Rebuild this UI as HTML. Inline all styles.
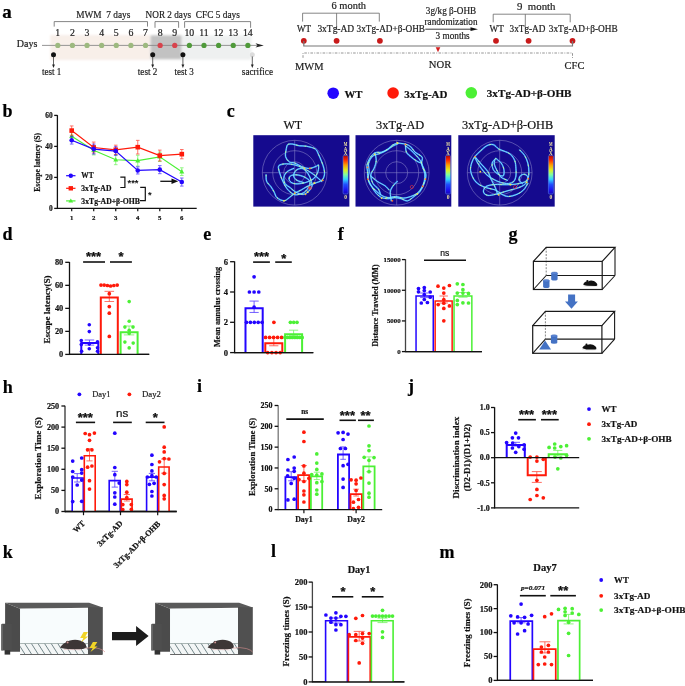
<!DOCTYPE html>
<html><head><meta charset="utf-8"><style>
html,body{margin:0;padding:0;background:#fff;width:685px;height:686px;overflow:hidden}
svg{display:block;will-change:transform;filter:blur(0.35px)}
.s{font-family:"Liberation Serif",serif}
.a{font-family:"Liberation Sans",sans-serif}
</style></head><body>
<svg width="685" height="686" viewBox="0 0 685 686">
<defs>
<filter id="soft" x="-10%" y="-20%" width="120%" height="140%"><feGaussianBlur stdDeviation="0.8"/></filter>
<filter id="bl" x="-10%" y="-10%" width="120%" height="120%"><feGaussianBlur stdDeviation="0.35"/></filter>
<linearGradient id="jet" x1="0" y1="1" x2="0" y2="0">
<stop offset="0" stop-color="#1808b8"/><stop offset="0.1" stop-color="#1c10f0"/><stop offset="0.25" stop-color="#2050ff"/><stop offset="0.38" stop-color="#30d8ff"/>
<stop offset="0.5" stop-color="#80ffa0"/><stop offset="0.62" stop-color="#e0f020"/><stop offset="0.75" stop-color="#ffa000"/>
<stop offset="0.88" stop-color="#ff2800"/><stop offset="1" stop-color="#a80808"/></linearGradient>
</defs>
<text x="2.2" y="18.2" font-size="19" class="s" font-weight="bold" stroke="#000" stroke-width="0.2">a</text>
<g filter="url(#soft)">
<rect x="50.2" y="35" width="99.8" height="25" fill="#f8efe9"/>
<rect x="181.5" y="35.5" width="70" height="24.2" fill="#eef0f0"/>
<rect x="150.5" y="35.3" width="31" height="24" fill="#c2c2c2"/>
</g>
<line x1="42" y1="45.4" x2="258" y2="45.4" stroke="#8a8a8a" stroke-width="0.9"/>
<path d="M255.5,43.2 L263.8,45.4 L255.5,47.6 L257.5,45.4 Z" fill="#222"/>
<circle cx="57.8" cy="45.4" r="2.6" fill="#9db97f"/>
<text x="57.8" y="36" font-size="9.8" class="s" text-anchor="middle" fill="#222" stroke="#222" stroke-width="0.2">1</text>
<circle cx="72.42" cy="45.4" r="2.6" fill="#9db97f"/>
<text x="72.42" y="36" font-size="9.8" class="s" text-anchor="middle" fill="#222" stroke="#222" stroke-width="0.2">2</text>
<circle cx="87.04" cy="45.4" r="2.6" fill="#9db97f"/>
<text x="87.04" y="36" font-size="9.8" class="s" text-anchor="middle" fill="#222" stroke="#222" stroke-width="0.2">3</text>
<circle cx="101.66" cy="45.4" r="2.6" fill="#9db97f"/>
<text x="101.66" y="36" font-size="9.8" class="s" text-anchor="middle" fill="#222" stroke="#222" stroke-width="0.2">4</text>
<circle cx="116.28" cy="45.4" r="2.6" fill="#9db97f"/>
<text x="116.28" y="36" font-size="9.8" class="s" text-anchor="middle" fill="#222" stroke="#222" stroke-width="0.2">5</text>
<circle cx="130.9" cy="45.4" r="2.6" fill="#9db97f"/>
<text x="130.9" y="36" font-size="9.8" class="s" text-anchor="middle" fill="#222" stroke="#222" stroke-width="0.2">6</text>
<circle cx="145.52" cy="45.4" r="2.6" fill="#9db97f"/>
<text x="145.52" y="36" font-size="9.8" class="s" text-anchor="middle" fill="#222" stroke="#222" stroke-width="0.2">7</text>
<circle cx="160.14" cy="45.4" r="2.6" fill="#d8434c"/>
<text x="160.14" y="36" font-size="9.8" class="s" text-anchor="middle" fill="#222" stroke="#222" stroke-width="0.2">8</text>
<circle cx="174.76" cy="45.4" r="2.6" fill="#d8434c"/>
<text x="174.76" y="36" font-size="9.8" class="s" text-anchor="middle" fill="#222" stroke="#222" stroke-width="0.2">9</text>
<circle cx="189.38" cy="45.4" r="2.6" fill="#4f9a3a"/>
<text x="189.38" y="36" font-size="9.8" class="s" text-anchor="middle" fill="#222" stroke="#222" stroke-width="0.2">10</text>
<circle cx="204" cy="45.4" r="2.6" fill="#4f9a3a"/>
<text x="204" y="36" font-size="9.8" class="s" text-anchor="middle" fill="#222" stroke="#222" stroke-width="0.2">11</text>
<circle cx="218.62" cy="45.4" r="2.6" fill="#4f9a3a"/>
<text x="218.62" y="36" font-size="9.8" class="s" text-anchor="middle" fill="#222" stroke="#222" stroke-width="0.2">12</text>
<circle cx="233.24" cy="45.4" r="2.6" fill="#4f9a3a"/>
<text x="233.24" y="36" font-size="9.8" class="s" text-anchor="middle" fill="#222" stroke="#222" stroke-width="0.2">13</text>
<circle cx="247.86" cy="45.4" r="2.6" fill="#4f9a3a"/>
<text x="247.86" y="36" font-size="9.8" class="s" text-anchor="middle" fill="#222" stroke="#222" stroke-width="0.2">14</text>
<text x="16.8" y="47" font-size="10" class="s" fill="#222" stroke="#222" stroke-width="0.2">Days</text>
<path d="M54.2,26.6 L54.2,21.6 L147.5,21.6 L147.5,26.6" fill="none" stroke="#666" stroke-width="0.8"/>
<path d="M155,27.8 L155,21.6 L178.6,21.6 L178.6,27.8" fill="none" stroke="#666" stroke-width="0.8"/>
<path d="M184.6,27.8 L184.6,21.6 L250.6,21.6 L250.6,27.8" fill="none" stroke="#666" stroke-width="0.8"/>
<text x="76.3" y="17.6" font-size="10" class="s" fill="#222" stroke="#222" stroke-width="0.2" textLength="54" lengthAdjust="spacingAndGlyphs">MWM&#160; 7 days</text>
<text x="145.6" y="17.6" font-size="10" class="s" fill="#222" stroke="#222" stroke-width="0.2" textLength="45.5" lengthAdjust="spacingAndGlyphs">NOR 2 days</text>
<text x="195.8" y="17.6" font-size="10" class="s" fill="#222" stroke="#222" stroke-width="0.2" textLength="44" lengthAdjust="spacingAndGlyphs">CFC 5 days</text>
<circle cx="53.5" cy="54.7" r="2.5" fill="#111"/>
<line x1="53.5" y1="56.5" x2="53.5" y2="65.5" stroke="#222" stroke-width="0.7"/>
<path d="M52.1,64.5 L54.9,64.5 L53.5,68 Z" fill="#222"/>
<text x="42" y="74.6" font-size="10" class="s" fill="#222" stroke="#222" stroke-width="0.2" textLength="19.3" lengthAdjust="spacingAndGlyphs">test 1</text>
<circle cx="152.7" cy="54.7" r="2.5" fill="#111"/>
<line x1="152.7" y1="56.5" x2="152.7" y2="65.5" stroke="#222" stroke-width="0.7"/>
<path d="M151.3,64.5 L154.1,64.5 L152.7,68 Z" fill="#222"/>
<text x="137.8" y="74.6" font-size="10" class="s" fill="#222" stroke="#222" stroke-width="0.2" textLength="19.5" lengthAdjust="spacingAndGlyphs">test 2</text>
<circle cx="182.9" cy="54.7" r="2.5" fill="#111"/>
<line x1="182.9" y1="56.5" x2="182.9" y2="65.5" stroke="#222" stroke-width="0.7"/>
<path d="M181.5,64.5 L184.3,64.5 L182.9,68 Z" fill="#222"/>
<text x="174.5" y="74.6" font-size="10" class="s" fill="#222" stroke="#222" stroke-width="0.2" textLength="19.3" lengthAdjust="spacingAndGlyphs">test 3</text>
<circle cx="252.3" cy="54.7" r="2.5" fill="#dcdcdc"/>
<line x1="252.3" y1="56.5" x2="252.3" y2="65.5" stroke="#222" stroke-width="0.7"/>
<path d="M250.9,64.5 L253.7,64.5 L252.3,68 Z" fill="#222"/>
<text x="241.8" y="74.6" font-size="10" class="s" fill="#222" stroke="#222" stroke-width="0.2" textLength="31.2" lengthAdjust="spacingAndGlyphs">sacrifice</text>
<text x="348.8" y="8.6" font-size="10.3" class="s" text-anchor="middle" fill="#222" stroke="#222" stroke-width="0.2" textLength="34.5" lengthAdjust="spacingAndGlyphs">6 month</text>
<path d="M302.6,21.6 L302.6,13.2 L379.3,13.2 L379.3,21.6" fill="none" stroke="#666" stroke-width="0.8"/>
<line x1="336.6" y1="13.2" x2="336.6" y2="30" stroke="#666" stroke-width="0.8"/>
<text x="517" y="9.6" font-size="10.3" class="s" fill="#222" stroke="#222" stroke-width="0.2" textLength="38.5" lengthAdjust="spacingAndGlyphs">9&#160; month</text>
<path d="M493.2,22.3 L493.2,14.2 L570.2,14.2 L570.2,22.3" fill="none" stroke="#666" stroke-width="0.8"/>
<line x1="525.3" y1="14.2" x2="525.3" y2="31.5" stroke="#666" stroke-width="0.8"/>
<text x="297" y="31.8" font-size="9.4" class="s" fill="#222" stroke="#222" stroke-width="0.2" textLength="14" lengthAdjust="spacingAndGlyphs">WT</text>
<text x="317.4" y="31.8" font-size="9.4" class="s" fill="#222" stroke="#222" stroke-width="0.2" textLength="36.8" lengthAdjust="spacingAndGlyphs">3xTg-AD</text>
<text x="356.6" y="31.8" font-size="9.4" class="s" fill="#222" stroke="#222" stroke-width="0.2" textLength="68.4" lengthAdjust="spacingAndGlyphs">3xTg-AD+β-OHB</text>
<text x="489.6" y="31.8" font-size="9.4" class="s" fill="#222" stroke="#222" stroke-width="0.2" textLength="14.2" lengthAdjust="spacingAndGlyphs">WT</text>
<text x="509.6" y="31.8" font-size="9.4" class="s" fill="#222" stroke="#222" stroke-width="0.2" textLength="35.8" lengthAdjust="spacingAndGlyphs">3xTg-AD</text>
<text x="548.8" y="31.8" font-size="9.4" class="s" fill="#222" stroke="#222" stroke-width="0.2" textLength="68.8" lengthAdjust="spacingAndGlyphs">3xTg-AD+β-OHB</text>
<circle cx="303.8" cy="40.8" r="2.9" fill="#c81a1a"/>
<circle cx="336.6" cy="40.8" r="2.9" fill="#c81a1a"/>
<circle cx="379.9" cy="40.8" r="2.9" fill="#c81a1a"/>
<circle cx="496" cy="40.8" r="2.9" fill="#c81a1a"/>
<circle cx="528.6" cy="40.8" r="2.9" fill="#c81a1a"/>
<circle cx="572.5" cy="40.8" r="2.9" fill="#c81a1a"/>
<path d="M303.8,41 L303.8,46 L572.5,46 L572.5,41" fill="none" stroke="#777" stroke-width="1.2"/>
<path d="M303,57.8 L303,53 L572.5,53 L572.5,58.5" fill="none" stroke="#8f8f8f" stroke-width="0.95" stroke-dasharray="2.6,1.3,0.9,1.3"/>
<path d="M435.7,47.3 L440.3,47.3 L438,52.3 Z" fill="#d42020"/>
<line x1="425.3" y1="29.2" x2="472" y2="29.2" stroke="#222" stroke-width="0.9"/>
<path d="M470.5,27.3 L478,29.2 L470.5,31.1 Z" fill="#111"/>
<text x="451" y="13.8" font-size="9.6" class="s" text-anchor="middle" fill="#222" stroke="#222" stroke-width="0.2" textLength="50.3" lengthAdjust="spacingAndGlyphs">3g/kg β-OHB</text>
<text x="451" y="24.6" font-size="9.6" class="s" text-anchor="middle" fill="#222" stroke="#222" stroke-width="0.2" textLength="53" lengthAdjust="spacingAndGlyphs">randomization</text>
<text x="452.6" y="39.2" font-size="9.6" class="s" text-anchor="middle" fill="#222" stroke="#222" stroke-width="0.2" textLength="34.2" lengthAdjust="spacingAndGlyphs">3 months</text>
<text x="309.3" y="69.6" font-size="10.3" class="s" text-anchor="middle" fill="#222" stroke="#222" stroke-width="0.2" textLength="28.5" lengthAdjust="spacingAndGlyphs">MWM</text>
<text x="440" y="67.8" font-size="10.3" class="s" text-anchor="middle" fill="#222" stroke="#222" stroke-width="0.2" textLength="22.5" lengthAdjust="spacingAndGlyphs">NOR</text>
<text x="574.5" y="69.2" font-size="10.3" class="s" text-anchor="middle" fill="#222" stroke="#222" stroke-width="0.2" textLength="19.8" lengthAdjust="spacingAndGlyphs">CFC</text>
<circle cx="333.2" cy="93.2" r="5.8" fill="#2305ff"/>
<circle cx="393.1" cy="93" r="5.8" fill="#ff1a0a"/>
<circle cx="471.3" cy="92.8" r="5.8" fill="#4cf035"/>
<text x="344.6" y="97.9" font-size="11.2" class="s" font-weight="bold" fill="#111" stroke="#111" stroke-width="0.2" textLength="17.9" lengthAdjust="spacingAndGlyphs">WT</text>
<text x="404.2" y="97.6" font-size="11.2" class="s" font-weight="bold" fill="#111" stroke="#111" stroke-width="0.2" textLength="43.3" lengthAdjust="spacingAndGlyphs">3xTg-AD</text>
<text x="486.8" y="97.3" font-size="11.2" class="s" font-weight="bold" fill="#111" stroke="#111" stroke-width="0.2" textLength="84.7" lengthAdjust="spacingAndGlyphs">3xTg-AD+β-OHB</text>
<text x="2.6" y="117" font-size="18" class="s" font-weight="bold" stroke="#000" stroke-width="0.2">b</text>
<line x1="57.4" y1="115.1" x2="57.4" y2="209.05" stroke="#111" stroke-width="1.3"/>
<line x1="54.2" y1="208.4" x2="57.4" y2="208.4" stroke="#111" stroke-width="1.3"/>
<text x="52.6" y="210.92" font-size="7.4" class="s" font-weight="bold" text-anchor="end" fill="#111" stroke="#111" stroke-width="0.2">0</text>
<line x1="54.2" y1="177.4" x2="57.4" y2="177.4" stroke="#111" stroke-width="1.3"/>
<text x="52.6" y="179.92" font-size="7.4" class="s" font-weight="bold" text-anchor="end" fill="#111" stroke="#111" stroke-width="0.2">20</text>
<line x1="54.2" y1="146.4" x2="57.4" y2="146.4" stroke="#111" stroke-width="1.3"/>
<text x="52.6" y="148.92" font-size="7.4" class="s" font-weight="bold" text-anchor="end" fill="#111" stroke="#111" stroke-width="0.2">40</text>
<line x1="54.2" y1="115.4" x2="57.4" y2="115.4" stroke="#111" stroke-width="1.3"/>
<text x="52.6" y="117.92" font-size="7.4" class="s" font-weight="bold" text-anchor="end" fill="#111" stroke="#111" stroke-width="0.2">60</text>
<line x1="57.4" y1="208.4" x2="196.7" y2="208.4" stroke="#111" stroke-width="1.3"/>
<line x1="71.7" y1="208.4" x2="71.7" y2="211.2" stroke="#111" stroke-width="1.2"/>
<text x="71.7" y="220.2" font-size="6.8" class="s" font-weight="bold" text-anchor="middle" fill="#111" stroke="#111" stroke-width="0.2">1</text>
<line x1="93.72" y1="208.4" x2="93.72" y2="211.2" stroke="#111" stroke-width="1.2"/>
<text x="93.72" y="220.2" font-size="6.8" class="s" font-weight="bold" text-anchor="middle" fill="#111" stroke="#111" stroke-width="0.2">2</text>
<line x1="115.74" y1="208.4" x2="115.74" y2="211.2" stroke="#111" stroke-width="1.2"/>
<text x="115.74" y="220.2" font-size="6.8" class="s" font-weight="bold" text-anchor="middle" fill="#111" stroke="#111" stroke-width="0.2">3</text>
<line x1="137.76" y1="208.4" x2="137.76" y2="211.2" stroke="#111" stroke-width="1.2"/>
<text x="137.76" y="220.2" font-size="6.8" class="s" font-weight="bold" text-anchor="middle" fill="#111" stroke="#111" stroke-width="0.2">4</text>
<line x1="159.78" y1="208.4" x2="159.78" y2="211.2" stroke="#111" stroke-width="1.2"/>
<text x="159.78" y="220.2" font-size="6.8" class="s" font-weight="bold" text-anchor="middle" fill="#111" stroke="#111" stroke-width="0.2">5</text>
<line x1="181.8" y1="208.4" x2="181.8" y2="211.2" stroke="#111" stroke-width="1.2"/>
<text x="181.8" y="220.2" font-size="6.8" class="s" font-weight="bold" text-anchor="middle" fill="#111" stroke="#111" stroke-width="0.2">6</text>
<text x="39.91" y="162.4" font-size="7.6" class="s" font-weight="bold" text-anchor="middle" fill="#111" stroke="#111" stroke-width="0.2" textLength="58.6" lengthAdjust="spacingAndGlyphs" transform="rotate(-90 39.91 162.4)">Escape latency (S)</text>
<polyline points="71.7,136.32 93.72,150.28 115.74,159.73 137.76,160.66 159.78,156.79 181.8,171.67" fill="none" stroke="#4cf035" stroke-width="1.2"/>
<g opacity="0.75">
<line x1="71.7" y1="131.68" x2="71.7" y2="140.98" stroke="#4cf035" stroke-width="0.8"/>
<line x1="69.9" y1="131.68" x2="73.5" y2="131.68" stroke="#4cf035" stroke-width="0.8"/>
<line x1="69.9" y1="140.98" x2="73.5" y2="140.98" stroke="#4cf035" stroke-width="0.8"/>
</g>
<g opacity="0.75">
<line x1="93.72" y1="145.62" x2="93.72" y2="154.93" stroke="#4cf035" stroke-width="0.8"/>
<line x1="91.92" y1="145.62" x2="95.52" y2="145.62" stroke="#4cf035" stroke-width="0.8"/>
<line x1="91.92" y1="154.93" x2="95.52" y2="154.93" stroke="#4cf035" stroke-width="0.8"/>
</g>
<g opacity="0.75">
<line x1="115.74" y1="154.77" x2="115.74" y2="164.69" stroke="#4cf035" stroke-width="0.8"/>
<line x1="113.94" y1="154.77" x2="117.54" y2="154.77" stroke="#4cf035" stroke-width="0.8"/>
<line x1="113.94" y1="164.69" x2="117.54" y2="164.69" stroke="#4cf035" stroke-width="0.8"/>
</g>
<g opacity="0.75">
<line x1="137.76" y1="155.24" x2="137.76" y2="166.09" stroke="#4cf035" stroke-width="0.8"/>
<line x1="135.96" y1="155.24" x2="139.56" y2="155.24" stroke="#4cf035" stroke-width="0.8"/>
<line x1="135.96" y1="166.09" x2="139.56" y2="166.09" stroke="#4cf035" stroke-width="0.8"/>
</g>
<g opacity="0.75">
<line x1="159.78" y1="152.13" x2="159.78" y2="161.44" stroke="#4cf035" stroke-width="0.8"/>
<line x1="157.98" y1="152.13" x2="161.58" y2="152.13" stroke="#4cf035" stroke-width="0.8"/>
<line x1="157.98" y1="161.44" x2="161.58" y2="161.44" stroke="#4cf035" stroke-width="0.8"/>
</g>
<g opacity="0.75">
<line x1="181.8" y1="167.79" x2="181.8" y2="175.54" stroke="#4cf035" stroke-width="0.8"/>
<line x1="180" y1="167.79" x2="183.6" y2="167.79" stroke="#4cf035" stroke-width="0.8"/>
<line x1="180" y1="175.54" x2="183.6" y2="175.54" stroke="#4cf035" stroke-width="0.8"/>
</g>
<path d="M71.7,133.72 L74.2,138.12 L69.2,138.12 Z" fill="#4cf035"/>
<path d="M93.72,147.68 L96.22,152.08 L91.22,152.08 Z" fill="#4cf035"/>
<path d="M115.74,157.13 L118.24,161.53 L113.24,161.53 Z" fill="#4cf035"/>
<path d="M137.76,158.06 L140.26,162.46 L135.26,162.46 Z" fill="#4cf035"/>
<path d="M159.78,154.19 L162.28,158.59 L157.28,158.59 Z" fill="#4cf035"/>
<path d="M181.8,169.07 L184.3,173.47 L179.3,173.47 Z" fill="#4cf035"/>
<polyline points="71.7,130.59 93.72,147.49 115.74,149.81 137.76,147.18 159.78,155.55 181.8,154.15" fill="none" stroke="#ff1a0a" stroke-width="1.2"/>
<g opacity="0.75">
<line x1="71.7" y1="125.94" x2="71.7" y2="135.24" stroke="#ff1a0a" stroke-width="0.8"/>
<line x1="69.9" y1="125.94" x2="73.5" y2="125.94" stroke="#ff1a0a" stroke-width="0.8"/>
<line x1="69.9" y1="135.24" x2="73.5" y2="135.24" stroke="#ff1a0a" stroke-width="0.8"/>
</g>
<g opacity="0.75">
<line x1="93.72" y1="142.06" x2="93.72" y2="152.91" stroke="#ff1a0a" stroke-width="0.8"/>
<line x1="91.92" y1="142.06" x2="95.52" y2="142.06" stroke="#ff1a0a" stroke-width="0.8"/>
<line x1="91.92" y1="152.91" x2="95.52" y2="152.91" stroke="#ff1a0a" stroke-width="0.8"/>
</g>
<g opacity="0.75">
<line x1="115.74" y1="145.16" x2="115.74" y2="154.46" stroke="#ff1a0a" stroke-width="0.8"/>
<line x1="113.94" y1="145.16" x2="117.54" y2="145.16" stroke="#ff1a0a" stroke-width="0.8"/>
<line x1="113.94" y1="154.46" x2="117.54" y2="154.46" stroke="#ff1a0a" stroke-width="0.8"/>
</g>
<g opacity="0.75">
<line x1="137.76" y1="140.36" x2="137.76" y2="154" stroke="#ff1a0a" stroke-width="0.8"/>
<line x1="135.96" y1="140.36" x2="139.56" y2="140.36" stroke="#ff1a0a" stroke-width="0.8"/>
<line x1="135.96" y1="154" x2="139.56" y2="154" stroke="#ff1a0a" stroke-width="0.8"/>
</g>
<g opacity="0.75">
<line x1="159.78" y1="150.12" x2="159.78" y2="160.97" stroke="#ff1a0a" stroke-width="0.8"/>
<line x1="157.98" y1="150.12" x2="161.58" y2="150.12" stroke="#ff1a0a" stroke-width="0.8"/>
<line x1="157.98" y1="160.97" x2="161.58" y2="160.97" stroke="#ff1a0a" stroke-width="0.8"/>
</g>
<g opacity="0.75">
<line x1="181.8" y1="149.5" x2="181.8" y2="158.8" stroke="#ff1a0a" stroke-width="0.8"/>
<line x1="180" y1="149.5" x2="183.6" y2="149.5" stroke="#ff1a0a" stroke-width="0.8"/>
<line x1="180" y1="158.8" x2="183.6" y2="158.8" stroke="#ff1a0a" stroke-width="0.8"/>
</g>
<rect x="69.4" y="128.29" width="4.6" height="4.6" fill="#ff1a0a"/>
<rect x="91.42" y="145.19" width="4.6" height="4.6" fill="#ff1a0a"/>
<rect x="113.44" y="147.51" width="4.6" height="4.6" fill="#ff1a0a"/>
<rect x="135.46" y="144.88" width="4.6" height="4.6" fill="#ff1a0a"/>
<rect x="157.48" y="153.25" width="4.6" height="4.6" fill="#ff1a0a"/>
<rect x="179.5" y="151.85" width="4.6" height="4.6" fill="#ff1a0a"/>
<polyline points="71.7,140.2 93.72,149.04 115.74,151.05 137.76,170.43 159.78,169.65 181.8,182.05" fill="none" stroke="#2305ff" stroke-width="1.2"/>
<g opacity="0.75">
<line x1="71.7" y1="136.32" x2="71.7" y2="144.07" stroke="#2305ff" stroke-width="0.8"/>
<line x1="69.9" y1="136.32" x2="73.5" y2="136.32" stroke="#2305ff" stroke-width="0.8"/>
<line x1="69.9" y1="144.07" x2="73.5" y2="144.07" stroke="#2305ff" stroke-width="0.8"/>
</g>
<g opacity="0.75">
<line x1="93.72" y1="144.07" x2="93.72" y2="154" stroke="#2305ff" stroke-width="0.8"/>
<line x1="91.92" y1="144.07" x2="95.52" y2="144.07" stroke="#2305ff" stroke-width="0.8"/>
<line x1="91.92" y1="154" x2="95.52" y2="154" stroke="#2305ff" stroke-width="0.8"/>
</g>
<g opacity="0.75">
<line x1="115.74" y1="146.71" x2="115.74" y2="155.39" stroke="#2305ff" stroke-width="0.8"/>
<line x1="113.94" y1="146.71" x2="117.54" y2="146.71" stroke="#2305ff" stroke-width="0.8"/>
<line x1="113.94" y1="155.39" x2="117.54" y2="155.39" stroke="#2305ff" stroke-width="0.8"/>
</g>
<g opacity="0.75">
<line x1="137.76" y1="166.86" x2="137.76" y2="173.99" stroke="#2305ff" stroke-width="0.8"/>
<line x1="135.96" y1="166.86" x2="139.56" y2="166.86" stroke="#2305ff" stroke-width="0.8"/>
<line x1="135.96" y1="173.99" x2="139.56" y2="173.99" stroke="#2305ff" stroke-width="0.8"/>
</g>
<g opacity="0.75">
<line x1="159.78" y1="165.62" x2="159.78" y2="173.68" stroke="#2305ff" stroke-width="0.8"/>
<line x1="157.98" y1="165.62" x2="161.58" y2="165.62" stroke="#2305ff" stroke-width="0.8"/>
<line x1="157.98" y1="173.68" x2="161.58" y2="173.68" stroke="#2305ff" stroke-width="0.8"/>
</g>
<g opacity="0.75">
<line x1="181.8" y1="178.02" x2="181.8" y2="186.08" stroke="#2305ff" stroke-width="0.8"/>
<line x1="180" y1="178.02" x2="183.6" y2="178.02" stroke="#2305ff" stroke-width="0.8"/>
<line x1="180" y1="186.08" x2="183.6" y2="186.08" stroke="#2305ff" stroke-width="0.8"/>
</g>
<circle cx="71.7" cy="140.2" r="2.3" fill="#2305ff"/>
<circle cx="93.72" cy="149.04" r="2.3" fill="#2305ff"/>
<circle cx="115.74" cy="151.05" r="2.3" fill="#2305ff"/>
<circle cx="137.76" cy="170.43" r="2.3" fill="#2305ff"/>
<circle cx="159.78" cy="169.65" r="2.3" fill="#2305ff"/>
<circle cx="181.8" cy="182.05" r="2.3" fill="#2305ff"/>
<line x1="66.1" y1="175.7" x2="75.5" y2="175.7" stroke="#2305ff" stroke-width="1.2"/>
<circle cx="70.8" cy="175.7" r="2.2" fill="#2305ff"/>
<text x="81.3" y="178.3" font-size="7.6" class="s" font-weight="bold" fill="#111" stroke="#111" stroke-width="0.2" textLength="12.3" lengthAdjust="spacingAndGlyphs">WT</text>
<line x1="66.1" y1="188.3" x2="75.5" y2="188.3" stroke="#ff1a0a" stroke-width="1.2"/>
<rect x="68.6" y="186.1" width="4.4" height="4.4" fill="#ff1a0a"/>
<text x="81.3" y="190.9" font-size="7.6" class="s" font-weight="bold" fill="#111" stroke="#111" stroke-width="0.2" textLength="30.1" lengthAdjust="spacingAndGlyphs">3xTg-AD</text>
<line x1="66.1" y1="200.9" x2="75.5" y2="200.9" stroke="#4cf035" stroke-width="1.2"/>
<path d="M70.8,198.5 L73.2,202.6 L68.4,202.6 Z" fill="#4cf035"/>
<text x="81.3" y="203.5" font-size="7.6" class="s" font-weight="bold" fill="#111" stroke="#111" stroke-width="0.2" textLength="58.6" lengthAdjust="spacingAndGlyphs">3xTg-AD+β-OHB</text>
<path d="M120.3,177.2 L124.9,177.2 L124.9,187.5 L120.3,187.5" fill="none" stroke="#111" stroke-width="1.2"/>
<text x="133" y="186.4" font-size="9.4" class="a" font-weight="bold" text-anchor="middle" fill="#111" stroke="#111" stroke-width="0">***</text>
<path d="M140.2,187.4 L145.3,187.4 L145.3,200.6 L139.8,200.6" fill="none" stroke="#111" stroke-width="1.2"/>
<text x="149.9" y="197.5" font-size="9.4" class="a" font-weight="bold" text-anchor="middle" fill="#111" stroke="#111" stroke-width="0">*</text>
<line x1="160.3" y1="181.3" x2="173" y2="181.3" stroke="#111" stroke-width="1.3"/>
<path d="M171.5,178.6 L178.2,181.3 L171.5,184 Z" fill="#111"/>
<text x="226.8" y="116.8" font-size="18" class="s" font-weight="bold" stroke="#000" stroke-width="0.2">c</text>
<text x="292.8" y="128.6" font-size="12.8" class="s" text-anchor="middle" fill="#111" stroke="#111" stroke-width="0.2" textLength="18.8" lengthAdjust="spacingAndGlyphs">WT</text>
<text x="400.2" y="128.6" font-size="12.8" class="s" text-anchor="middle" fill="#111" stroke="#111" stroke-width="0.2" textLength="48.2" lengthAdjust="spacingAndGlyphs">3xTg-AD</text>
<text x="507.6" y="128.6" font-size="12.8" class="s" text-anchor="middle" fill="#111" stroke="#111" stroke-width="0.2" textLength="91.3" lengthAdjust="spacingAndGlyphs">3xTg-AD+β-OHB</text>
<rect x="253.3" y="135.2" width="96.1" height="71.4" fill="#150a8e"/>
<circle cx="294.7" cy="172.7" r="32.4" fill="none" stroke="#8c88cc" stroke-width="0.55"/>
<circle cx="294.7" cy="172.7" r="22" fill="none" stroke="#8c88cc" stroke-width="0.55"/>
<circle cx="294.7" cy="172.7" r="11" fill="none" stroke="#8c88cc" stroke-width="0.55"/>
<line x1="262.3" y1="172.7" x2="327.1" y2="172.7" stroke="#8c88cc" stroke-width="0.55"/>
<line x1="294.7" y1="140.3" x2="294.7" y2="205.1" stroke="#8c88cc" stroke-width="0.55"/>
<path d="M266.1,174.89 C266.19,175.97 265.83,179.39 266.64,181.37 C267.45,183.35 269.7,184.97 270.96,186.77 C272.22,188.57 273.21,190.37 274.2,192.17 C275.19,193.97 275.28,196.13 276.9,197.58 C278.53,199.02 281.86,200.82 283.93,200.82 C286,200.82 287.53,198.84 289.33,197.58 C291.13,196.31 292.75,194.51 294.73,193.25 C296.71,191.99 299.23,191.09 301.21,190.01 C303.19,188.93 304.45,187.85 306.61,186.77 C308.77,185.69 311.65,184.61 314.17,183.53 C316.69,182.45 320.03,181.73 321.74,180.29 C323.45,178.85 324.08,176.87 324.44,174.89 C324.8,172.91 324.35,170.57 323.9,168.41 C323.45,166.25 322.64,164.27 321.74,161.93 C320.84,159.59 319.58,156.53 318.49,154.36 C317.41,152.2 317.23,150.31 315.25,148.96 C313.27,147.61 309.31,146.8 306.61,146.26 C303.91,145.72 301.39,146.08 299.05,145.72 C296.71,145.36 294.46,144.28 292.57,144.1 C290.68,143.92 288.79,143.65 287.71,144.64 C286.63,145.63 286.45,148.06 286.09,150.04 C285.73,152.02 285.01,154.54 285.55,156.53 C286.09,158.51 287.8,160.85 289.33,161.93 C290.86,163.01 292.39,162.11 294.73,163.01 C297.07,163.91 300.85,166.43 303.37,167.33 C305.89,168.23 307.69,168.59 309.85,168.41 C312.01,168.23 314.89,166.79 316.33,166.25 C317.77,165.71 318.22,164.27 318.49,165.17 C318.76,166.07 318.67,169.49 317.95,171.65 C317.23,173.81 315.7,176.51 314.17,178.13 C312.64,179.75 310.93,180.47 308.77,181.37 C306.61,182.27 303.73,183.17 301.21,183.53 C298.69,183.89 295.63,184.07 293.65,183.53 C291.67,182.99 289.87,181.55 289.33,180.29 C288.79,179.03 289.15,176.87 290.41,175.97 C291.67,175.07 294.55,174.71 296.89,174.89 C299.23,175.07 302.29,175.97 304.45,177.05 C306.61,178.13 309.13,179.75 309.85,181.37 C310.57,182.99 309.67,184.97 308.77,186.77 C307.87,188.57 306.07,190.91 304.45,192.17 C302.83,193.43 300.85,193.97 299.05,194.33 C297.25,194.69 295.63,195.23 293.65,194.33 C291.67,193.43 288.97,191.09 287.17,188.93 C285.37,186.77 284.11,184.07 282.85,181.37 C281.59,178.67 280.33,175.25 279.61,172.73 C278.89,170.21 277.98,167.69 278.53,166.25 C279.07,164.81 280.87,164.45 282.85,164.09 C284.83,163.73 287.71,163.73 290.41,164.09 C293.11,164.45 296.17,165.17 299.05,166.25 C301.93,167.33 305.17,169.13 307.69,170.57 C310.21,172.01 311.83,173.09 314.17,174.89 C316.51,176.69 320.48,180.29 321.74,181.37" fill="none" stroke="#2f8cff" stroke-width="1.6" stroke-linecap="round" stroke-linejoin="round" opacity="0.75"/>
<path d="M293.65,168.41 C292.57,168.95 288.79,170.21 287.17,171.65 C285.55,173.09 284.29,175.07 283.93,177.05 C283.57,179.03 283.93,181.73 285.01,183.53 C286.09,185.33 288.61,186.41 290.41,187.85 C292.21,189.29 293.65,191.09 295.81,192.17 C297.97,193.25 301.21,194.51 303.37,194.33 C305.53,194.15 307.33,192.53 308.77,191.09 C310.21,189.65 311.83,188.03 312.01,185.69 C312.19,183.35 310.93,179.57 309.85,177.05 C308.77,174.53 306.97,172.01 305.53,170.57 C304.09,169.13 302.83,168.41 301.21,168.41 C299.59,168.41 297.07,169.31 295.81,170.57 C294.55,171.83 293.47,174.35 293.65,175.97 C293.83,177.59 295.27,179.21 296.89,180.29 C298.51,181.37 302.29,182.09 303.37,182.45" fill="none" stroke="#2f8cff" stroke-width="1.6" stroke-linecap="round" stroke-linejoin="round" opacity="0.75"/>
<path d="M266.1,174.89 C266.19,175.97 265.83,179.39 266.64,181.37 C267.45,183.35 269.7,184.97 270.96,186.77 C272.22,188.57 273.21,190.37 274.2,192.17 C275.19,193.97 275.28,196.13 276.9,197.58 C278.53,199.02 281.86,200.82 283.93,200.82 C286,200.82 287.53,198.84 289.33,197.58 C291.13,196.31 292.75,194.51 294.73,193.25 C296.71,191.99 299.23,191.09 301.21,190.01 C303.19,188.93 304.45,187.85 306.61,186.77 C308.77,185.69 311.65,184.61 314.17,183.53 C316.69,182.45 320.03,181.73 321.74,180.29 C323.45,178.85 324.08,176.87 324.44,174.89 C324.8,172.91 324.35,170.57 323.9,168.41 C323.45,166.25 322.64,164.27 321.74,161.93 C320.84,159.59 319.58,156.53 318.49,154.36 C317.41,152.2 317.23,150.31 315.25,148.96 C313.27,147.61 309.31,146.8 306.61,146.26 C303.91,145.72 301.39,146.08 299.05,145.72 C296.71,145.36 294.46,144.28 292.57,144.1 C290.68,143.92 288.79,143.65 287.71,144.64 C286.63,145.63 286.45,148.06 286.09,150.04 C285.73,152.02 285.01,154.54 285.55,156.53 C286.09,158.51 287.8,160.85 289.33,161.93 C290.86,163.01 292.39,162.11 294.73,163.01 C297.07,163.91 300.85,166.43 303.37,167.33 C305.89,168.23 307.69,168.59 309.85,168.41 C312.01,168.23 314.89,166.79 316.33,166.25 C317.77,165.71 318.22,164.27 318.49,165.17 C318.76,166.07 318.67,169.49 317.95,171.65 C317.23,173.81 315.7,176.51 314.17,178.13 C312.64,179.75 310.93,180.47 308.77,181.37 C306.61,182.27 303.73,183.17 301.21,183.53 C298.69,183.89 295.63,184.07 293.65,183.53 C291.67,182.99 289.87,181.55 289.33,180.29 C288.79,179.03 289.15,176.87 290.41,175.97 C291.67,175.07 294.55,174.71 296.89,174.89 C299.23,175.07 302.29,175.97 304.45,177.05 C306.61,178.13 309.13,179.75 309.85,181.37 C310.57,182.99 309.67,184.97 308.77,186.77 C307.87,188.57 306.07,190.91 304.45,192.17 C302.83,193.43 300.85,193.97 299.05,194.33 C297.25,194.69 295.63,195.23 293.65,194.33 C291.67,193.43 288.97,191.09 287.17,188.93 C285.37,186.77 284.11,184.07 282.85,181.37 C281.59,178.67 280.33,175.25 279.61,172.73 C278.89,170.21 277.98,167.69 278.53,166.25 C279.07,164.81 280.87,164.45 282.85,164.09 C284.83,163.73 287.71,163.73 290.41,164.09 C293.11,164.45 296.17,165.17 299.05,166.25 C301.93,167.33 305.17,169.13 307.69,170.57 C310.21,172.01 311.83,173.09 314.17,174.89 C316.51,176.69 320.48,180.29 321.74,181.37" fill="none" stroke="#86ecff" stroke-width="0.85" stroke-linecap="round" stroke-linejoin="round"/>
<path d="M293.65,168.41 C292.57,168.95 288.79,170.21 287.17,171.65 C285.55,173.09 284.29,175.07 283.93,177.05 C283.57,179.03 283.93,181.73 285.01,183.53 C286.09,185.33 288.61,186.41 290.41,187.85 C292.21,189.29 293.65,191.09 295.81,192.17 C297.97,193.25 301.21,194.51 303.37,194.33 C305.53,194.15 307.33,192.53 308.77,191.09 C310.21,189.65 311.83,188.03 312.01,185.69 C312.19,183.35 310.93,179.57 309.85,177.05 C308.77,174.53 306.97,172.01 305.53,170.57 C304.09,169.13 302.83,168.41 301.21,168.41 C299.59,168.41 297.07,169.31 295.81,170.57 C294.55,171.83 293.47,174.35 293.65,175.97 C293.83,177.59 295.27,179.21 296.89,180.29 C298.51,181.37 302.29,182.09 303.37,182.45" fill="none" stroke="#86ecff" stroke-width="0.85" stroke-linecap="round" stroke-linejoin="round"/>
<path d="M266.1,174.89 C266.19,175.97 265.83,179.39 266.64,181.37 C267.45,183.35 269.7,184.97 270.96,186.77 C272.22,188.57 273.21,190.37 274.2,192.17 C275.19,193.97 275.28,196.13 276.9,197.58 C278.53,199.02 281.86,200.82 283.93,200.82 C286,200.82 287.53,198.84 289.33,197.58 C291.13,196.31 292.75,194.51 294.73,193.25 C296.71,191.99 299.23,191.09 301.21,190.01 C303.19,188.93 304.45,187.85 306.61,186.77 C308.77,185.69 311.65,184.61 314.17,183.53 C316.69,182.45 320.03,181.73 321.74,180.29 C323.45,178.85 324.08,176.87 324.44,174.89 C324.8,172.91 324.35,170.57 323.9,168.41 C323.45,166.25 322.64,164.27 321.74,161.93 C320.84,159.59 319.58,156.53 318.49,154.36 C317.41,152.2 317.23,150.31 315.25,148.96 C313.27,147.61 309.31,146.8 306.61,146.26 C303.91,145.72 301.39,146.08 299.05,145.72 C296.71,145.36 294.46,144.28 292.57,144.1 C290.68,143.92 288.79,143.65 287.71,144.64 C286.63,145.63 286.45,148.06 286.09,150.04 C285.73,152.02 285.01,154.54 285.55,156.53 C286.09,158.51 287.8,160.85 289.33,161.93 C290.86,163.01 292.39,162.11 294.73,163.01 C297.07,163.91 300.85,166.43 303.37,167.33 C305.89,168.23 307.69,168.59 309.85,168.41 C312.01,168.23 314.89,166.79 316.33,166.25 C317.77,165.71 318.22,164.27 318.49,165.17 C318.76,166.07 318.67,169.49 317.95,171.65 C317.23,173.81 315.7,176.51 314.17,178.13 C312.64,179.75 310.93,180.47 308.77,181.37 C306.61,182.27 303.73,183.17 301.21,183.53 C298.69,183.89 295.63,184.07 293.65,183.53 C291.67,182.99 289.87,181.55 289.33,180.29 C288.79,179.03 289.15,176.87 290.41,175.97 C291.67,175.07 294.55,174.71 296.89,174.89 C299.23,175.07 302.29,175.97 304.45,177.05 C306.61,178.13 309.13,179.75 309.85,181.37 C310.57,182.99 309.67,184.97 308.77,186.77 C307.87,188.57 306.07,190.91 304.45,192.17 C302.83,193.43 300.85,193.97 299.05,194.33 C297.25,194.69 295.63,195.23 293.65,194.33 C291.67,193.43 288.97,191.09 287.17,188.93 C285.37,186.77 284.11,184.07 282.85,181.37 C281.59,178.67 280.33,175.25 279.61,172.73 C278.89,170.21 277.98,167.69 278.53,166.25 C279.07,164.81 280.87,164.45 282.85,164.09 C284.83,163.73 287.71,163.73 290.41,164.09 C293.11,164.45 296.17,165.17 299.05,166.25 C301.93,167.33 305.17,169.13 307.69,170.57 C310.21,172.01 311.83,173.09 314.17,174.89 C316.51,176.69 320.48,180.29 321.74,181.37" fill="none" stroke="#e6ff70" stroke-width="0.9" stroke-dasharray="1.6 7" stroke-dashoffset="0" opacity="0.8"/>
<path d="M293.65,168.41 C292.57,168.95 288.79,170.21 287.17,171.65 C285.55,173.09 284.29,175.07 283.93,177.05 C283.57,179.03 283.93,181.73 285.01,183.53 C286.09,185.33 288.61,186.41 290.41,187.85 C292.21,189.29 293.65,191.09 295.81,192.17 C297.97,193.25 301.21,194.51 303.37,194.33 C305.53,194.15 307.33,192.53 308.77,191.09 C310.21,189.65 311.83,188.03 312.01,185.69 C312.19,183.35 310.93,179.57 309.85,177.05 C308.77,174.53 306.97,172.01 305.53,170.57 C304.09,169.13 302.83,168.41 301.21,168.41 C299.59,168.41 297.07,169.31 295.81,170.57 C294.55,171.83 293.47,174.35 293.65,175.97 C293.83,177.59 295.27,179.21 296.89,180.29 C298.51,181.37 302.29,182.09 303.37,182.45" fill="none" stroke="#e6ff70" stroke-width="0.9" stroke-dasharray="1.6 9" stroke-dashoffset="3" opacity="0.8"/>
<circle cx="304.45" cy="168.41" r="0.9" fill="#ffd040"/>
<circle cx="309.85" cy="168.41" r="0.9" fill="#ff8030"/>
<circle cx="309.85" cy="187.85" r="0.9" fill="#ff4020"/>
<circle cx="305.53" cy="194.33" r="0.9" fill="#ffb030"/>
<circle cx="307.69" cy="192.17" r="0.9" fill="#ffe040"/>
<circle cx="294.73" cy="193.25" r="0.9" fill="#ffb030"/>
<circle cx="322.82" cy="180.29" r="0.9" fill="#ff9030"/>
<circle cx="314.17" cy="182.99" r="0.9" fill="#ffe040"/>
<circle cx="283.93" cy="200.82" r="0.9" fill="#ffe040"/>
<rect x="343" y="155.4" width="5.1" height="38.6" rx="1.2" fill="url(#jet)" stroke="#5a8cff" stroke-width="0.5"/>
<text x="345.55" y="146.4" font-size="5.4" class="s" font-weight="bold" text-anchor="middle" fill="#f2e6a0" stroke="#f2e6a0" stroke-width="0" textLength="3.6" lengthAdjust="spacingAndGlyphs">M</text>
<text x="345.55" y="150.8" font-size="5.4" class="s" font-weight="bold" text-anchor="middle" fill="#f2e6a0" stroke="#f2e6a0" stroke-width="0" textLength="3.6" lengthAdjust="spacingAndGlyphs">A</text>
<text x="345.55" y="155.2" font-size="5.4" class="s" font-weight="bold" text-anchor="middle" fill="#f2e6a0" stroke="#f2e6a0" stroke-width="0" textLength="3.6" lengthAdjust="spacingAndGlyphs">X</text>
<text x="345.55" y="198.9" font-size="5.6" class="s" font-weight="bold" text-anchor="middle" fill="#f2e6a0" stroke="#f2e6a0" stroke-width="0">0</text>
<rect x="355.5" y="135.2" width="95.8" height="71.4" fill="#150a8e"/>
<circle cx="396.7" cy="172.7" r="32.4" fill="none" stroke="#8c88cc" stroke-width="0.55"/>
<circle cx="396.7" cy="172.7" r="22" fill="none" stroke="#8c88cc" stroke-width="0.55"/>
<circle cx="396.7" cy="172.7" r="11" fill="none" stroke="#8c88cc" stroke-width="0.55"/>
<line x1="364.3" y1="172.7" x2="429.1" y2="172.7" stroke="#8c88cc" stroke-width="0.55"/>
<line x1="396.7" y1="140.3" x2="396.7" y2="205.1" stroke="#8c88cc" stroke-width="0.55"/>
<path d="M397.27,143.02 C398.62,143.2 403.12,143.47 405.37,144.1 C407.62,144.73 409.15,145.45 410.77,146.8 C412.39,148.15 413.2,150.49 415.09,152.2 C416.98,153.91 421.03,155.26 422.12,157.07 C423.2,158.87 421.3,161.12 421.58,163.01 C421.85,164.9 423.02,166.43 423.74,168.41 C424.46,170.39 425.72,172.73 425.9,174.89 C426.08,177.05 425.36,179.39 424.82,181.37 C424.28,183.35 423.56,184.97 422.66,186.77 C421.76,188.57 420.85,190.55 419.41,192.17 C417.97,193.79 415.99,195.05 414.01,196.49 C412.03,197.94 409.69,200.46 407.53,200.82 C405.37,201.18 403.21,199.2 401.05,198.66 C398.89,198.12 396.73,197.58 394.57,197.58 C392.41,197.58 390.25,198.66 388.09,198.66 C385.93,198.66 383.59,198.48 381.61,197.58 C379.62,196.67 377.82,195.05 376.2,193.25 C374.58,191.45 373.23,189.11 371.88,186.77 C370.53,184.43 368.82,181.73 368.1,179.21 C367.38,176.69 367.74,173.99 367.56,171.65 C367.38,169.31 366.57,167.51 367.02,165.17 C367.47,162.83 368.91,159.68 370.26,157.61 C371.61,155.53 373.23,153.64 375.12,152.74 C377.01,151.84 379.44,152.83 381.61,152.2 C383.77,151.57 386.29,150.13 388.09,148.96 C389.89,147.79 390.88,146.17 392.41,145.18 C393.94,144.19 396.46,143.38 397.27,143.02" fill="none" stroke="#2f8cff" stroke-width="1.6" stroke-linecap="round" stroke-linejoin="round" opacity="0.75"/>
<path d="M375.12,153.28 C375.3,154.54 376.38,158.33 376.2,160.85 C376.02,163.37 374.94,166.07 374.04,168.41 C373.14,170.75 370.98,172.37 370.8,174.89 C370.62,177.41 371.7,181.19 372.96,183.53 C374.22,185.87 377.1,187.13 378.36,188.93 C379.62,190.73 380.16,193.43 380.53,194.33" fill="none" stroke="#2f8cff" stroke-width="1.6" stroke-linecap="round" stroke-linejoin="round" opacity="0.75"/>
<path d="M405.37,144.1 C405.55,145.45 405.37,149.95 406.45,152.2 C407.53,154.45 409.87,155.98 411.85,157.61 C413.83,159.23 416.71,161.03 418.33,161.93 C419.95,162.83 421.03,162.83 421.58,163.01" fill="none" stroke="#2f8cff" stroke-width="1.6" stroke-linecap="round" stroke-linejoin="round" opacity="0.75"/>
<path d="M397.81,143.78 C396.91,144.19 394.21,145.22 392.41,146.26 C390.61,147.31 388.99,148.87 387.01,150.04 C385.03,151.21 382.87,152.29 380.53,153.28 C378.18,154.27 374.94,154.36 372.96,155.98 C370.98,157.61 369.27,160.4 368.64,163.01 C368.01,165.62 369.27,169.13 369.18,171.65 C369.09,174.17 367.92,175.97 368.1,178.13 C368.28,180.29 369.09,182.63 370.26,184.61 C371.43,186.59 373.23,188.21 375.12,190.01 C377.01,191.81 379.44,194.15 381.61,195.41 C383.77,196.67 385.75,197.39 388.09,197.58 C390.43,197.76 393.13,196.4 395.65,196.49 C398.17,196.58 400.69,198.12 403.21,198.12 C405.73,198.12 408.43,197.3 410.77,196.49 C413.11,195.68 415.45,194.69 417.25,193.25 C419.05,191.81 420.4,189.83 421.58,187.85 C422.75,185.87 423.74,183.71 424.28,181.37 C424.82,179.03 425.09,176.15 424.82,173.81 C424.55,171.47 423.38,169.49 422.66,167.33 C421.94,165.17 421.58,162.83 420.49,160.85 C419.41,158.87 417.79,157.25 416.17,155.44 C414.55,153.64 412.57,151.66 410.77,150.04 C408.97,148.42 406.27,146.44 405.37,145.72" fill="none" stroke="#2f8cff" stroke-width="1.6" stroke-linecap="round" stroke-linejoin="round" opacity="0.75"/>
<path d="M397.27,181.37 C396.46,182.27 393.58,184.97 392.41,186.77 C391.24,188.57 390.43,189.83 390.25,192.17 C390.07,194.51 391.15,199.38 391.33,200.82" fill="none" stroke="#2f8cff" stroke-width="1.6" stroke-linecap="round" stroke-linejoin="round" opacity="0.75"/>
<path d="M370.8,175.97 C371.88,176.87 374.94,179.75 377.28,181.37 C379.62,182.99 382.87,184.25 384.85,185.69 C386.83,187.13 388.45,189.29 389.17,190.01" fill="none" stroke="#2f8cff" stroke-width="1.6" stroke-linecap="round" stroke-linejoin="round" opacity="0.75"/>
<path d="M397.27,143.02 C398.62,143.2 403.12,143.47 405.37,144.1 C407.62,144.73 409.15,145.45 410.77,146.8 C412.39,148.15 413.2,150.49 415.09,152.2 C416.98,153.91 421.03,155.26 422.12,157.07 C423.2,158.87 421.3,161.12 421.58,163.01 C421.85,164.9 423.02,166.43 423.74,168.41 C424.46,170.39 425.72,172.73 425.9,174.89 C426.08,177.05 425.36,179.39 424.82,181.37 C424.28,183.35 423.56,184.97 422.66,186.77 C421.76,188.57 420.85,190.55 419.41,192.17 C417.97,193.79 415.99,195.05 414.01,196.49 C412.03,197.94 409.69,200.46 407.53,200.82 C405.37,201.18 403.21,199.2 401.05,198.66 C398.89,198.12 396.73,197.58 394.57,197.58 C392.41,197.58 390.25,198.66 388.09,198.66 C385.93,198.66 383.59,198.48 381.61,197.58 C379.62,196.67 377.82,195.05 376.2,193.25 C374.58,191.45 373.23,189.11 371.88,186.77 C370.53,184.43 368.82,181.73 368.1,179.21 C367.38,176.69 367.74,173.99 367.56,171.65 C367.38,169.31 366.57,167.51 367.02,165.17 C367.47,162.83 368.91,159.68 370.26,157.61 C371.61,155.53 373.23,153.64 375.12,152.74 C377.01,151.84 379.44,152.83 381.61,152.2 C383.77,151.57 386.29,150.13 388.09,148.96 C389.89,147.79 390.88,146.17 392.41,145.18 C393.94,144.19 396.46,143.38 397.27,143.02" fill="none" stroke="#86ecff" stroke-width="0.85" stroke-linecap="round" stroke-linejoin="round"/>
<path d="M375.12,153.28 C375.3,154.54 376.38,158.33 376.2,160.85 C376.02,163.37 374.94,166.07 374.04,168.41 C373.14,170.75 370.98,172.37 370.8,174.89 C370.62,177.41 371.7,181.19 372.96,183.53 C374.22,185.87 377.1,187.13 378.36,188.93 C379.62,190.73 380.16,193.43 380.53,194.33" fill="none" stroke="#86ecff" stroke-width="0.85" stroke-linecap="round" stroke-linejoin="round"/>
<path d="M405.37,144.1 C405.55,145.45 405.37,149.95 406.45,152.2 C407.53,154.45 409.87,155.98 411.85,157.61 C413.83,159.23 416.71,161.03 418.33,161.93 C419.95,162.83 421.03,162.83 421.58,163.01" fill="none" stroke="#86ecff" stroke-width="0.85" stroke-linecap="round" stroke-linejoin="round"/>
<path d="M397.81,143.78 C396.91,144.19 394.21,145.22 392.41,146.26 C390.61,147.31 388.99,148.87 387.01,150.04 C385.03,151.21 382.87,152.29 380.53,153.28 C378.18,154.27 374.94,154.36 372.96,155.98 C370.98,157.61 369.27,160.4 368.64,163.01 C368.01,165.62 369.27,169.13 369.18,171.65 C369.09,174.17 367.92,175.97 368.1,178.13 C368.28,180.29 369.09,182.63 370.26,184.61 C371.43,186.59 373.23,188.21 375.12,190.01 C377.01,191.81 379.44,194.15 381.61,195.41 C383.77,196.67 385.75,197.39 388.09,197.58 C390.43,197.76 393.13,196.4 395.65,196.49 C398.17,196.58 400.69,198.12 403.21,198.12 C405.73,198.12 408.43,197.3 410.77,196.49 C413.11,195.68 415.45,194.69 417.25,193.25 C419.05,191.81 420.4,189.83 421.58,187.85 C422.75,185.87 423.74,183.71 424.28,181.37 C424.82,179.03 425.09,176.15 424.82,173.81 C424.55,171.47 423.38,169.49 422.66,167.33 C421.94,165.17 421.58,162.83 420.49,160.85 C419.41,158.87 417.79,157.25 416.17,155.44 C414.55,153.64 412.57,151.66 410.77,150.04 C408.97,148.42 406.27,146.44 405.37,145.72" fill="none" stroke="#86ecff" stroke-width="0.85" stroke-linecap="round" stroke-linejoin="round"/>
<path d="M397.27,181.37 C396.46,182.27 393.58,184.97 392.41,186.77 C391.24,188.57 390.43,189.83 390.25,192.17 C390.07,194.51 391.15,199.38 391.33,200.82" fill="none" stroke="#86ecff" stroke-width="0.85" stroke-linecap="round" stroke-linejoin="round"/>
<path d="M370.8,175.97 C371.88,176.87 374.94,179.75 377.28,181.37 C379.62,182.99 382.87,184.25 384.85,185.69 C386.83,187.13 388.45,189.29 389.17,190.01" fill="none" stroke="#86ecff" stroke-width="0.85" stroke-linecap="round" stroke-linejoin="round"/>
<path d="M397.27,143.02 C398.62,143.2 403.12,143.47 405.37,144.1 C407.62,144.73 409.15,145.45 410.77,146.8 C412.39,148.15 413.2,150.49 415.09,152.2 C416.98,153.91 421.03,155.26 422.12,157.07 C423.2,158.87 421.3,161.12 421.58,163.01 C421.85,164.9 423.02,166.43 423.74,168.41 C424.46,170.39 425.72,172.73 425.9,174.89 C426.08,177.05 425.36,179.39 424.82,181.37 C424.28,183.35 423.56,184.97 422.66,186.77 C421.76,188.57 420.85,190.55 419.41,192.17 C417.97,193.79 415.99,195.05 414.01,196.49 C412.03,197.94 409.69,200.46 407.53,200.82 C405.37,201.18 403.21,199.2 401.05,198.66 C398.89,198.12 396.73,197.58 394.57,197.58 C392.41,197.58 390.25,198.66 388.09,198.66 C385.93,198.66 383.59,198.48 381.61,197.58 C379.62,196.67 377.82,195.05 376.2,193.25 C374.58,191.45 373.23,189.11 371.88,186.77 C370.53,184.43 368.82,181.73 368.1,179.21 C367.38,176.69 367.74,173.99 367.56,171.65 C367.38,169.31 366.57,167.51 367.02,165.17 C367.47,162.83 368.91,159.68 370.26,157.61 C371.61,155.53 373.23,153.64 375.12,152.74 C377.01,151.84 379.44,152.83 381.61,152.2 C383.77,151.57 386.29,150.13 388.09,148.96 C389.89,147.79 390.88,146.17 392.41,145.18 C393.94,144.19 396.46,143.38 397.27,143.02" fill="none" stroke="#e6ff70" stroke-width="0.9" stroke-dasharray="1.6 7" stroke-dashoffset="0" opacity="0.8"/>
<path d="M375.12,153.28 C375.3,154.54 376.38,158.33 376.2,160.85 C376.02,163.37 374.94,166.07 374.04,168.41 C373.14,170.75 370.98,172.37 370.8,174.89 C370.62,177.41 371.7,181.19 372.96,183.53 C374.22,185.87 377.1,187.13 378.36,188.93 C379.62,190.73 380.16,193.43 380.53,194.33" fill="none" stroke="#e6ff70" stroke-width="0.9" stroke-dasharray="1.6 9" stroke-dashoffset="3" opacity="0.8"/>
<path d="M405.37,144.1 C405.55,145.45 405.37,149.95 406.45,152.2 C407.53,154.45 409.87,155.98 411.85,157.61 C413.83,159.23 416.71,161.03 418.33,161.93 C419.95,162.83 421.03,162.83 421.58,163.01" fill="none" stroke="#e6ff70" stroke-width="0.9" stroke-dasharray="1.6 11" stroke-dashoffset="6" opacity="0.8"/>
<path d="M397.81,143.78 C396.91,144.19 394.21,145.22 392.41,146.26 C390.61,147.31 388.99,148.87 387.01,150.04 C385.03,151.21 382.87,152.29 380.53,153.28 C378.18,154.27 374.94,154.36 372.96,155.98 C370.98,157.61 369.27,160.4 368.64,163.01 C368.01,165.62 369.27,169.13 369.18,171.65 C369.09,174.17 367.92,175.97 368.1,178.13 C368.28,180.29 369.09,182.63 370.26,184.61 C371.43,186.59 373.23,188.21 375.12,190.01 C377.01,191.81 379.44,194.15 381.61,195.41 C383.77,196.67 385.75,197.39 388.09,197.58 C390.43,197.76 393.13,196.4 395.65,196.49 C398.17,196.58 400.69,198.12 403.21,198.12 C405.73,198.12 408.43,197.3 410.77,196.49 C413.11,195.68 415.45,194.69 417.25,193.25 C419.05,191.81 420.4,189.83 421.58,187.85 C422.75,185.87 423.74,183.71 424.28,181.37 C424.82,179.03 425.09,176.15 424.82,173.81 C424.55,171.47 423.38,169.49 422.66,167.33 C421.94,165.17 421.58,162.83 420.49,160.85 C419.41,158.87 417.79,157.25 416.17,155.44 C414.55,153.64 412.57,151.66 410.77,150.04 C408.97,148.42 406.27,146.44 405.37,145.72" fill="none" stroke="#e6ff70" stroke-width="0.9" stroke-dasharray="1.6 13" stroke-dashoffset="9" opacity="0.8"/>
<path d="M397.27,181.37 C396.46,182.27 393.58,184.97 392.41,186.77 C391.24,188.57 390.43,189.83 390.25,192.17 C390.07,194.51 391.15,199.38 391.33,200.82" fill="none" stroke="#e6ff70" stroke-width="0.9" stroke-dasharray="1.6 15" stroke-dashoffset="12" opacity="0.8"/>
<path d="M370.8,175.97 C371.88,176.87 374.94,179.75 377.28,181.37 C379.62,182.99 382.87,184.25 384.85,185.69 C386.83,187.13 388.45,189.29 389.17,190.01" fill="none" stroke="#e6ff70" stroke-width="0.9" stroke-dasharray="1.6 17" stroke-dashoffset="15" opacity="0.8"/>
<circle cx="397.27" cy="143.02" r="0.9" fill="#ffe040"/>
<circle cx="405.37" cy="144.43" r="0.9" fill="#ff8030"/>
<circle cx="374.58" cy="154.36" r="0.9" fill="#ffe040"/>
<circle cx="367.56" cy="167.33" r="0.9" fill="#ff9030"/>
<circle cx="367.78" cy="179.21" r="0.9" fill="#ff5020"/>
<circle cx="425.36" cy="179.21" r="0.9" fill="#ff8030"/>
<circle cx="422.66" cy="186.23" r="0.9" fill="#ff6020"/>
<circle cx="392.41" cy="200.82" r="0.9" fill="#ff6020"/>
<circle cx="381.61" cy="198.12" r="0.9" fill="#ffe040"/>
<circle cx="417.25" cy="193.79" r="0.9" fill="#ffe040"/>
<rect x="445.5" y="155.4" width="5.1" height="38.6" rx="1.2" fill="url(#jet)" stroke="#5a8cff" stroke-width="0.5"/>
<text x="448.05" y="146.4" font-size="5.4" class="s" font-weight="bold" text-anchor="middle" fill="#f2e6a0" stroke="#f2e6a0" stroke-width="0" textLength="3.6" lengthAdjust="spacingAndGlyphs">M</text>
<text x="448.05" y="150.8" font-size="5.4" class="s" font-weight="bold" text-anchor="middle" fill="#f2e6a0" stroke="#f2e6a0" stroke-width="0" textLength="3.6" lengthAdjust="spacingAndGlyphs">A</text>
<text x="448.05" y="155.2" font-size="5.4" class="s" font-weight="bold" text-anchor="middle" fill="#f2e6a0" stroke="#f2e6a0" stroke-width="0" textLength="3.6" lengthAdjust="spacingAndGlyphs">X</text>
<text x="448.05" y="198.9" font-size="5.6" class="s" font-weight="bold" text-anchor="middle" fill="#f2e6a0" stroke="#f2e6a0" stroke-width="0">0</text>
<rect x="458.3" y="135.2" width="96.4" height="71.4" fill="#150a8e"/>
<circle cx="499.7" cy="172.7" r="32.4" fill="none" stroke="#8c88cc" stroke-width="0.55"/>
<circle cx="499.7" cy="172.7" r="22" fill="none" stroke="#8c88cc" stroke-width="0.55"/>
<circle cx="499.7" cy="172.7" r="11" fill="none" stroke="#8c88cc" stroke-width="0.55"/>
<line x1="467.3" y1="172.7" x2="532.1" y2="172.7" stroke="#8c88cc" stroke-width="0.55"/>
<line x1="499.7" y1="140.3" x2="499.7" y2="205.1" stroke="#8c88cc" stroke-width="0.55"/>
<path d="M519.71,150.04 C520.52,150.94 523.22,153.28 524.58,155.44 C525.93,157.61 527.1,160.31 527.82,163.01 C528.54,165.71 528.9,168.95 528.9,171.65 C528.9,174.35 528.54,177.05 527.82,179.21 C527.1,181.37 526.2,183.17 524.58,184.61 C522.95,186.05 520.43,186.95 518.09,187.85 C515.75,188.75 513.05,189.29 510.53,190.01 C508.01,190.73 505.49,191.45 502.97,192.17 C500.45,192.89 497.93,193.79 495.41,194.33 C492.89,194.87 489.83,195.77 487.85,195.41 C485.87,195.05 483.89,193.61 483.53,192.17 C483.16,190.73 484.07,188.03 485.69,186.77 C487.31,185.51 490.55,184.97 493.25,184.61 C495.95,184.25 499.01,184.61 501.89,184.61 C504.77,184.61 507.65,184.79 510.53,184.61 C513.41,184.43 516.65,184.07 519.17,183.53 C521.69,182.99 524.21,182.45 525.66,181.37 C527.1,180.29 528,178.22 527.82,177.05 C527.64,175.88 525.84,174.53 524.58,174.35 C523.31,174.17 521.15,174.98 520.25,175.97 C519.35,176.96 518.81,179.03 519.17,180.29 C519.53,181.55 521.87,182.99 522.41,183.53" fill="none" stroke="#2f8cff" stroke-width="1.6" stroke-linecap="round" stroke-linejoin="round" opacity="0.75"/>
<path d="M474.88,156.53 C475.24,157.43 475.96,159.95 477.04,161.93 C478.12,163.91 479.74,166.25 481.36,168.41 C482.98,170.57 484.79,173.09 486.77,174.89 C488.75,176.69 490.91,177.95 493.25,179.21 C495.59,180.47 498.29,181.73 500.81,182.45 C503.33,183.17 506.21,183.71 508.37,183.53 C510.53,183.35 512.51,182.63 513.77,181.37 C515.03,180.11 515.57,178.13 515.93,175.97 C516.29,173.81 516.11,170.93 515.93,168.41 C515.75,165.89 515.75,163.19 514.85,160.85 C513.95,158.51 512.33,155.98 510.53,154.36 C508.73,152.74 506.03,152.02 504.05,151.12 C502.07,150.22 500.45,150.04 498.65,148.96 C496.85,147.88 495.23,145.18 493.25,144.64 C491.27,144.1 488.93,144.64 486.77,145.72 C484.61,146.8 482.26,149.32 480.28,151.12 C478.3,152.92 476.32,154.54 474.88,156.53 C473.44,158.51 472.36,160.67 471.64,163.01 C470.92,165.35 470.2,167.87 470.56,170.57 C470.92,173.27 472.36,176.87 473.8,179.21 C475.24,181.55 477.04,183.17 479.2,184.61 C481.36,186.05 484.07,186.95 486.77,187.85 C489.47,188.75 492.89,188.93 495.41,190.01 C497.93,191.09 499.73,193.25 501.89,194.33 C504.05,195.41 505.85,196.49 508.37,196.49 C510.89,196.49 514.49,195.41 517.01,194.33 C519.53,193.25 521.69,191.81 523.49,190.01 C525.3,188.21 527.1,184.61 527.82,183.53" fill="none" stroke="#2f8cff" stroke-width="1.6" stroke-linecap="round" stroke-linejoin="round" opacity="0.75"/>
<path d="M495.41,158.69 C494.87,159.41 492.53,161.21 492.17,163.01 C491.81,164.81 492.35,167.69 493.25,169.49 C494.15,171.29 495.95,172.73 497.57,173.81 C499.19,174.89 501.89,176.51 502.97,175.97 C504.05,175.43 504.23,172.55 504.05,170.57 C503.87,168.59 502.97,165.89 501.89,164.09 C500.81,162.29 498.65,160.67 497.57,159.77 C496.49,158.87 495.95,157.97 495.41,158.69 C494.87,159.41 493.97,161.93 494.33,164.09 C494.69,166.25 496.49,169.49 497.57,171.65 C498.65,173.81 499.19,175.61 500.81,177.05 C502.43,178.49 506.21,179.75 507.29,180.29" fill="none" stroke="#2f8cff" stroke-width="1.6" stroke-linecap="round" stroke-linejoin="round" opacity="0.75"/>
<path d="M474.88,156.53 C475.78,157.61 478.12,160.49 480.28,163.01 C482.44,165.53 486.05,168.95 487.85,171.65 C489.65,174.35 489.83,176.51 491.09,179.21 C492.35,181.91 494.33,185.33 495.41,187.85 C496.49,190.37 497.21,193.25 497.57,194.33" fill="none" stroke="#2f8cff" stroke-width="1.6" stroke-linecap="round" stroke-linejoin="round" opacity="0.75"/>
<path d="M519.71,150.04 C520.52,150.94 523.22,153.28 524.58,155.44 C525.93,157.61 527.1,160.31 527.82,163.01 C528.54,165.71 528.9,168.95 528.9,171.65 C528.9,174.35 528.54,177.05 527.82,179.21 C527.1,181.37 526.2,183.17 524.58,184.61 C522.95,186.05 520.43,186.95 518.09,187.85 C515.75,188.75 513.05,189.29 510.53,190.01 C508.01,190.73 505.49,191.45 502.97,192.17 C500.45,192.89 497.93,193.79 495.41,194.33 C492.89,194.87 489.83,195.77 487.85,195.41 C485.87,195.05 483.89,193.61 483.53,192.17 C483.16,190.73 484.07,188.03 485.69,186.77 C487.31,185.51 490.55,184.97 493.25,184.61 C495.95,184.25 499.01,184.61 501.89,184.61 C504.77,184.61 507.65,184.79 510.53,184.61 C513.41,184.43 516.65,184.07 519.17,183.53 C521.69,182.99 524.21,182.45 525.66,181.37 C527.1,180.29 528,178.22 527.82,177.05 C527.64,175.88 525.84,174.53 524.58,174.35 C523.31,174.17 521.15,174.98 520.25,175.97 C519.35,176.96 518.81,179.03 519.17,180.29 C519.53,181.55 521.87,182.99 522.41,183.53" fill="none" stroke="#86ecff" stroke-width="0.85" stroke-linecap="round" stroke-linejoin="round"/>
<path d="M474.88,156.53 C475.24,157.43 475.96,159.95 477.04,161.93 C478.12,163.91 479.74,166.25 481.36,168.41 C482.98,170.57 484.79,173.09 486.77,174.89 C488.75,176.69 490.91,177.95 493.25,179.21 C495.59,180.47 498.29,181.73 500.81,182.45 C503.33,183.17 506.21,183.71 508.37,183.53 C510.53,183.35 512.51,182.63 513.77,181.37 C515.03,180.11 515.57,178.13 515.93,175.97 C516.29,173.81 516.11,170.93 515.93,168.41 C515.75,165.89 515.75,163.19 514.85,160.85 C513.95,158.51 512.33,155.98 510.53,154.36 C508.73,152.74 506.03,152.02 504.05,151.12 C502.07,150.22 500.45,150.04 498.65,148.96 C496.85,147.88 495.23,145.18 493.25,144.64 C491.27,144.1 488.93,144.64 486.77,145.72 C484.61,146.8 482.26,149.32 480.28,151.12 C478.3,152.92 476.32,154.54 474.88,156.53 C473.44,158.51 472.36,160.67 471.64,163.01 C470.92,165.35 470.2,167.87 470.56,170.57 C470.92,173.27 472.36,176.87 473.8,179.21 C475.24,181.55 477.04,183.17 479.2,184.61 C481.36,186.05 484.07,186.95 486.77,187.85 C489.47,188.75 492.89,188.93 495.41,190.01 C497.93,191.09 499.73,193.25 501.89,194.33 C504.05,195.41 505.85,196.49 508.37,196.49 C510.89,196.49 514.49,195.41 517.01,194.33 C519.53,193.25 521.69,191.81 523.49,190.01 C525.3,188.21 527.1,184.61 527.82,183.53" fill="none" stroke="#86ecff" stroke-width="0.85" stroke-linecap="round" stroke-linejoin="round"/>
<path d="M495.41,158.69 C494.87,159.41 492.53,161.21 492.17,163.01 C491.81,164.81 492.35,167.69 493.25,169.49 C494.15,171.29 495.95,172.73 497.57,173.81 C499.19,174.89 501.89,176.51 502.97,175.97 C504.05,175.43 504.23,172.55 504.05,170.57 C503.87,168.59 502.97,165.89 501.89,164.09 C500.81,162.29 498.65,160.67 497.57,159.77 C496.49,158.87 495.95,157.97 495.41,158.69 C494.87,159.41 493.97,161.93 494.33,164.09 C494.69,166.25 496.49,169.49 497.57,171.65 C498.65,173.81 499.19,175.61 500.81,177.05 C502.43,178.49 506.21,179.75 507.29,180.29" fill="none" stroke="#86ecff" stroke-width="0.85" stroke-linecap="round" stroke-linejoin="round"/>
<path d="M474.88,156.53 C475.78,157.61 478.12,160.49 480.28,163.01 C482.44,165.53 486.05,168.95 487.85,171.65 C489.65,174.35 489.83,176.51 491.09,179.21 C492.35,181.91 494.33,185.33 495.41,187.85 C496.49,190.37 497.21,193.25 497.57,194.33" fill="none" stroke="#86ecff" stroke-width="0.85" stroke-linecap="round" stroke-linejoin="round"/>
<path d="M519.71,150.04 C520.52,150.94 523.22,153.28 524.58,155.44 C525.93,157.61 527.1,160.31 527.82,163.01 C528.54,165.71 528.9,168.95 528.9,171.65 C528.9,174.35 528.54,177.05 527.82,179.21 C527.1,181.37 526.2,183.17 524.58,184.61 C522.95,186.05 520.43,186.95 518.09,187.85 C515.75,188.75 513.05,189.29 510.53,190.01 C508.01,190.73 505.49,191.45 502.97,192.17 C500.45,192.89 497.93,193.79 495.41,194.33 C492.89,194.87 489.83,195.77 487.85,195.41 C485.87,195.05 483.89,193.61 483.53,192.17 C483.16,190.73 484.07,188.03 485.69,186.77 C487.31,185.51 490.55,184.97 493.25,184.61 C495.95,184.25 499.01,184.61 501.89,184.61 C504.77,184.61 507.65,184.79 510.53,184.61 C513.41,184.43 516.65,184.07 519.17,183.53 C521.69,182.99 524.21,182.45 525.66,181.37 C527.1,180.29 528,178.22 527.82,177.05 C527.64,175.88 525.84,174.53 524.58,174.35 C523.31,174.17 521.15,174.98 520.25,175.97 C519.35,176.96 518.81,179.03 519.17,180.29 C519.53,181.55 521.87,182.99 522.41,183.53" fill="none" stroke="#e6ff70" stroke-width="0.9" stroke-dasharray="1.6 7" stroke-dashoffset="0" opacity="0.8"/>
<path d="M474.88,156.53 C475.24,157.43 475.96,159.95 477.04,161.93 C478.12,163.91 479.74,166.25 481.36,168.41 C482.98,170.57 484.79,173.09 486.77,174.89 C488.75,176.69 490.91,177.95 493.25,179.21 C495.59,180.47 498.29,181.73 500.81,182.45 C503.33,183.17 506.21,183.71 508.37,183.53 C510.53,183.35 512.51,182.63 513.77,181.37 C515.03,180.11 515.57,178.13 515.93,175.97 C516.29,173.81 516.11,170.93 515.93,168.41 C515.75,165.89 515.75,163.19 514.85,160.85 C513.95,158.51 512.33,155.98 510.53,154.36 C508.73,152.74 506.03,152.02 504.05,151.12 C502.07,150.22 500.45,150.04 498.65,148.96 C496.85,147.88 495.23,145.18 493.25,144.64 C491.27,144.1 488.93,144.64 486.77,145.72 C484.61,146.8 482.26,149.32 480.28,151.12 C478.3,152.92 476.32,154.54 474.88,156.53 C473.44,158.51 472.36,160.67 471.64,163.01 C470.92,165.35 470.2,167.87 470.56,170.57 C470.92,173.27 472.36,176.87 473.8,179.21 C475.24,181.55 477.04,183.17 479.2,184.61 C481.36,186.05 484.07,186.95 486.77,187.85 C489.47,188.75 492.89,188.93 495.41,190.01 C497.93,191.09 499.73,193.25 501.89,194.33 C504.05,195.41 505.85,196.49 508.37,196.49 C510.89,196.49 514.49,195.41 517.01,194.33 C519.53,193.25 521.69,191.81 523.49,190.01 C525.3,188.21 527.1,184.61 527.82,183.53" fill="none" stroke="#e6ff70" stroke-width="0.9" stroke-dasharray="1.6 9" stroke-dashoffset="3" opacity="0.8"/>
<path d="M495.41,158.69 C494.87,159.41 492.53,161.21 492.17,163.01 C491.81,164.81 492.35,167.69 493.25,169.49 C494.15,171.29 495.95,172.73 497.57,173.81 C499.19,174.89 501.89,176.51 502.97,175.97 C504.05,175.43 504.23,172.55 504.05,170.57 C503.87,168.59 502.97,165.89 501.89,164.09 C500.81,162.29 498.65,160.67 497.57,159.77 C496.49,158.87 495.95,157.97 495.41,158.69 C494.87,159.41 493.97,161.93 494.33,164.09 C494.69,166.25 496.49,169.49 497.57,171.65 C498.65,173.81 499.19,175.61 500.81,177.05 C502.43,178.49 506.21,179.75 507.29,180.29" fill="none" stroke="#e6ff70" stroke-width="0.9" stroke-dasharray="1.6 11" stroke-dashoffset="6" opacity="0.8"/>
<path d="M474.88,156.53 C475.78,157.61 478.12,160.49 480.28,163.01 C482.44,165.53 486.05,168.95 487.85,171.65 C489.65,174.35 489.83,176.51 491.09,179.21 C492.35,181.91 494.33,185.33 495.41,187.85 C496.49,190.37 497.21,193.25 497.57,194.33" fill="none" stroke="#e6ff70" stroke-width="0.9" stroke-dasharray="1.6 13" stroke-dashoffset="9" opacity="0.8"/>
<circle cx="475.1" cy="156.53" r="0.9" fill="#ff8030"/>
<circle cx="528.36" cy="178.67" r="0.9" fill="#ff7020"/>
<circle cx="498.65" cy="194.87" r="0.9" fill="#ffe040"/>
<circle cx="510.53" cy="184.61" r="0.9" fill="#ffe040"/>
<circle cx="526.74" cy="182.45" r="0.9" fill="#ffe040"/>
<circle cx="480.28" cy="171.65" r="0.9" fill="#ffe040"/>
<rect x="548.4" y="155.4" width="5" height="38.6" rx="1.2" fill="url(#jet)" stroke="#5a8cff" stroke-width="0.5"/>
<text x="550.9" y="146.4" font-size="5.4" class="s" font-weight="bold" text-anchor="middle" fill="#f2e6a0" stroke="#f2e6a0" stroke-width="0" textLength="3.6" lengthAdjust="spacingAndGlyphs">M</text>
<text x="550.9" y="150.8" font-size="5.4" class="s" font-weight="bold" text-anchor="middle" fill="#f2e6a0" stroke="#f2e6a0" stroke-width="0" textLength="3.6" lengthAdjust="spacingAndGlyphs">A</text>
<text x="550.9" y="155.2" font-size="5.4" class="s" font-weight="bold" text-anchor="middle" fill="#f2e6a0" stroke="#f2e6a0" stroke-width="0" textLength="3.6" lengthAdjust="spacingAndGlyphs">X</text>
<text x="550.9" y="198.9" font-size="5.6" class="s" font-weight="bold" text-anchor="middle" fill="#f2e6a0" stroke="#f2e6a0" stroke-width="0">0</text>
<circle cx="310.07" cy="187.85" r="1.6" fill="none" stroke="#ff3030" stroke-width="0.55"/>
<circle cx="411.85" cy="186.99" r="1.6" fill="none" stroke="#ff3030" stroke-width="0.55"/>
<circle cx="515.07" cy="186.99" r="1.6" fill="none" stroke="#ff3030" stroke-width="0.55"/>
<text x="2.6" y="239.6" font-size="18" class="s" font-weight="bold" stroke="#000" stroke-width="0.2">d</text>
<line x1="69.5" y1="262.02" x2="69.5" y2="355.05" stroke="#111" stroke-width="1.3"/>
<line x1="65.25" y1="354.4" x2="69.5" y2="354.4" stroke="#111" stroke-width="1.3"/>
<text x="63.25" y="357.26" font-size="8.4" class="s" font-weight="bold" text-anchor="end" fill="#111" stroke="#111" stroke-width="0.2">0</text>
<line x1="65.25" y1="331.38" x2="69.5" y2="331.38" stroke="#111" stroke-width="1.3"/>
<text x="63.25" y="334.24" font-size="8.4" class="s" font-weight="bold" text-anchor="end" fill="#111" stroke="#111" stroke-width="0.2">20</text>
<line x1="65.25" y1="308.36" x2="69.5" y2="308.36" stroke="#111" stroke-width="1.3"/>
<text x="63.25" y="311.22" font-size="8.4" class="s" font-weight="bold" text-anchor="end" fill="#111" stroke="#111" stroke-width="0.2">40</text>
<line x1="65.25" y1="285.34" x2="69.5" y2="285.34" stroke="#111" stroke-width="1.3"/>
<text x="63.25" y="288.2" font-size="8.4" class="s" font-weight="bold" text-anchor="end" fill="#111" stroke="#111" stroke-width="0.2">60</text>
<line x1="65.25" y1="262.32" x2="69.5" y2="262.32" stroke="#111" stroke-width="1.3"/>
<text x="63.25" y="265.18" font-size="8.4" class="s" font-weight="bold" text-anchor="end" fill="#111" stroke="#111" stroke-width="0.2">80</text>
<line x1="69.5" y1="354.4" x2="149.2" y2="354.4" stroke="#111" stroke-width="1.3"/>
<text x="50.17" y="309.5" font-size="9" class="s" font-weight="bold" text-anchor="middle" fill="#111" stroke="#111" stroke-width="0.2" textLength="67.8" lengthAdjust="spacingAndGlyphs" transform="rotate(-90 50.17 309.5)">Escape latency(S)</text>
<rect x="81.3" y="342.97" width="17" height="11.43" fill="#fff"/>
<path d="M81.3,354.4 L81.3,342.97 L98.3,342.97 L98.3,354.4" fill="none" stroke="#2305ff" stroke-width="2.0" stroke-linejoin="miter"/>
<rect x="100.8" y="297.5" width="17" height="56.9" fill="#fff"/>
<path d="M100.8,354.4 L100.8,297.5 L117.8,297.5 L117.8,354.4" fill="none" stroke="#ff1a0a" stroke-width="2.0" stroke-linejoin="miter"/>
<rect x="120.6" y="332.15" width="17" height="22.25" fill="#fff"/>
<path d="M120.6,354.4 L120.6,332.15 L137.6,332.15 L137.6,354.4" fill="none" stroke="#4cf035" stroke-width="2.0" stroke-linejoin="miter"/>
<circle cx="89.3" cy="324.7" r="1.8" fill="#2305ff"/>
<circle cx="89.3" cy="331.6" r="1.8" fill="#2305ff"/>
<circle cx="81.3" cy="340.5" r="1.8" fill="#2305ff"/>
<circle cx="97.5" cy="341.8" r="1.8" fill="#2305ff"/>
<circle cx="89.3" cy="344.1" r="1.8" fill="#2305ff"/>
<circle cx="89.3" cy="348.7" r="1.8" fill="#2305ff"/>
<circle cx="81.6" cy="351.3" r="1.8" fill="#2305ff"/>
<circle cx="97.5" cy="347.7" r="1.8" fill="#2305ff"/>
<circle cx="97.5" cy="351.3" r="1.8" fill="#2305ff"/>
<circle cx="81.3" cy="344.6" r="1.8" fill="#2305ff"/>
<circle cx="101" cy="285.1" r="1.85" fill="#ff1a0a"/>
<circle cx="104.2" cy="285.1" r="1.85" fill="#ff1a0a"/>
<circle cx="107.4" cy="285.5" r="1.85" fill="#ff1a0a"/>
<circle cx="110.6" cy="286" r="1.85" fill="#ff1a0a"/>
<circle cx="113.8" cy="285.5" r="1.85" fill="#ff1a0a"/>
<circle cx="117.2" cy="285.1" r="1.85" fill="#ff1a0a"/>
<circle cx="109.3" cy="293.7" r="1.85" fill="#ff1a0a"/>
<circle cx="109.3" cy="306.6" r="1.85" fill="#ff1a0a"/>
<circle cx="109.3" cy="313.2" r="1.85" fill="#ff1a0a"/>
<circle cx="109.3" cy="336.4" r="1.85" fill="#ff1a0a"/>
<circle cx="129.2" cy="301.6" r="1.8" fill="#4cf035"/>
<circle cx="129.2" cy="321.3" r="1.8" fill="#4cf035"/>
<circle cx="124.9" cy="327.1" r="1.8" fill="#4cf035"/>
<circle cx="133" cy="327.1" r="1.8" fill="#4cf035"/>
<circle cx="129.2" cy="333.4" r="1.8" fill="#4cf035"/>
<circle cx="124.9" cy="342.1" r="1.8" fill="#4cf035"/>
<circle cx="133.2" cy="343.1" r="1.8" fill="#4cf035"/>
<circle cx="129.2" cy="347.9" r="1.8" fill="#4cf035"/>
<circle cx="129.2" cy="330.2" r="1.8" fill="#4cf035"/>
<g opacity="0.75">
<line x1="89.45" y1="340" x2="89.45" y2="345.1" stroke="#2305ff" stroke-width="0.85"/>
<line x1="84.7" y1="340" x2="94.2" y2="340" stroke="#2305ff" stroke-width="0.85"/>
<line x1="84.7" y1="345.1" x2="94.2" y2="345.1" stroke="#2305ff" stroke-width="0.85"/>
</g>
<g opacity="0.75">
<line x1="109.3" y1="291.33" x2="109.3" y2="301.57" stroke="#ff1a0a" stroke-width="0.85"/>
<line x1="104.5" y1="291.33" x2="114.1" y2="291.33" stroke="#ff1a0a" stroke-width="0.85"/>
<line x1="104.5" y1="301.57" x2="114.1" y2="301.57" stroke="#ff1a0a" stroke-width="0.85"/>
</g>
<g opacity="0.75">
<line x1="129.05" y1="326" x2="129.05" y2="334.9" stroke="#4cf035" stroke-width="0.85"/>
<line x1="123.85" y1="326" x2="134.25" y2="326" stroke="#4cf035" stroke-width="0.85"/>
<line x1="123.85" y1="334.9" x2="134.25" y2="334.9" stroke="#4cf035" stroke-width="0.85"/>
</g>
<line x1="69.5" y1="354.4" x2="149.2" y2="354.4" stroke="#111" stroke-width="1.3"/>
<line x1="83.1" y1="262" x2="105" y2="262" stroke="#111" stroke-width="1.6"/>
<text x="93.5" y="261.2" font-size="13" class="a" font-weight="bold" text-anchor="middle" fill="#111" stroke="#111" stroke-width="0.25">***</text>
<line x1="110" y1="262" x2="131.9" y2="262" stroke="#111" stroke-width="1.6"/>
<text x="121.05" y="261.2" font-size="13" class="a" font-weight="bold" text-anchor="middle" fill="#111" stroke="#111" stroke-width="0.25">*</text>
<text x="203.2" y="239.7" font-size="18" class="s" font-weight="bold" stroke="#000" stroke-width="0.2">e</text>
<line x1="234.6" y1="261.4" x2="234.6" y2="353.25" stroke="#111" stroke-width="1.3"/>
<line x1="230.1" y1="352.6" x2="234.6" y2="352.6" stroke="#111" stroke-width="1.3"/>
<text x="228.1" y="355.52" font-size="8.6" class="s" font-weight="bold" text-anchor="end" fill="#111" stroke="#111" stroke-width="0.2">0</text>
<line x1="230.1" y1="322.3" x2="234.6" y2="322.3" stroke="#111" stroke-width="1.3"/>
<text x="228.1" y="325.22" font-size="8.6" class="s" font-weight="bold" text-anchor="end" fill="#111" stroke="#111" stroke-width="0.2">2</text>
<line x1="230.1" y1="292" x2="234.6" y2="292" stroke="#111" stroke-width="1.3"/>
<text x="228.1" y="294.92" font-size="8.6" class="s" font-weight="bold" text-anchor="end" fill="#111" stroke="#111" stroke-width="0.2">4</text>
<line x1="230.1" y1="261.7" x2="234.6" y2="261.7" stroke="#111" stroke-width="1.3"/>
<text x="228.1" y="264.62" font-size="8.6" class="s" font-weight="bold" text-anchor="end" fill="#111" stroke="#111" stroke-width="0.2">6</text>
<line x1="234.6" y1="352.6" x2="313.3" y2="352.6" stroke="#111" stroke-width="1.3"/>
<text x="219.87" y="307" font-size="8.1" class="s" font-weight="bold" text-anchor="middle" fill="#111" stroke="#111" stroke-width="0.2" textLength="80.2" lengthAdjust="spacingAndGlyphs" transform="rotate(-90 219.87 307)">Mean annulus crossing</text>
<rect x="245.5" y="308.15" width="17.2" height="44.45" fill="#fff"/>
<path d="M245.5,352.6 L245.5,308.15 L262.7,308.15 L262.7,352.6" fill="none" stroke="#2305ff" stroke-width="2.0" stroke-linejoin="miter"/>
<rect x="265.3" y="343.3" width="17" height="9.3" fill="#fff"/>
<path d="M265.3,352.6 L265.3,343.3 L282.3,343.3 L282.3,352.6" fill="none" stroke="#ff1a0a" stroke-width="2.0" stroke-linejoin="miter"/>
<rect x="285.1" y="334.21" width="17" height="18.39" fill="#fff"/>
<path d="M285.1,352.6 L285.1,334.21 L302.1,334.21 L302.1,352.6" fill="none" stroke="#4cf035" stroke-width="2.0" stroke-linejoin="miter"/>
<circle cx="254.1" cy="276.85" r="1.85" fill="#2305ff"/>
<circle cx="249.4" cy="292" r="1.85" fill="#2305ff"/>
<circle cx="254.1" cy="292" r="1.85" fill="#2305ff"/>
<circle cx="258.8" cy="292" r="1.85" fill="#2305ff"/>
<circle cx="254.1" cy="307.15" r="1.85" fill="#2305ff"/>
<circle cx="246.5" cy="322.3" r="1.85" fill="#2305ff"/>
<circle cx="250.4" cy="322.3" r="1.85" fill="#2305ff"/>
<circle cx="254.3" cy="322.3" r="1.85" fill="#2305ff"/>
<circle cx="258.2" cy="322.3" r="1.85" fill="#2305ff"/>
<circle cx="262.1" cy="322.3" r="1.85" fill="#2305ff"/>
<circle cx="273.9" cy="322.3" r="1.85" fill="#ff1a0a"/>
<circle cx="265.6" cy="337.45" r="1.85" fill="#ff1a0a"/>
<circle cx="269.6" cy="337.45" r="1.85" fill="#ff1a0a"/>
<circle cx="273.6" cy="337.45" r="1.85" fill="#ff1a0a"/>
<circle cx="277.6" cy="337.45" r="1.85" fill="#ff1a0a"/>
<circle cx="281.6" cy="337.45" r="1.85" fill="#ff1a0a"/>
<circle cx="267.7" cy="352.6" r="1.85" fill="#ff1a0a"/>
<circle cx="271.87" cy="352.6" r="1.85" fill="#ff1a0a"/>
<circle cx="276.04" cy="352.6" r="1.85" fill="#ff1a0a"/>
<circle cx="280.21" cy="352.6" r="1.85" fill="#ff1a0a"/>
<circle cx="290.4" cy="322.3" r="1.85" fill="#4cf035"/>
<circle cx="293.7" cy="322.3" r="1.85" fill="#4cf035"/>
<circle cx="297" cy="322.3" r="1.85" fill="#4cf035"/>
<circle cx="285" cy="337.45" r="1.85" fill="#4cf035"/>
<circle cx="287.45" cy="337.45" r="1.85" fill="#4cf035"/>
<circle cx="289.9" cy="337.45" r="1.85" fill="#4cf035"/>
<circle cx="292.35" cy="337.45" r="1.85" fill="#4cf035"/>
<circle cx="294.8" cy="337.45" r="1.85" fill="#4cf035"/>
<circle cx="297.25" cy="337.45" r="1.85" fill="#4cf035"/>
<circle cx="299.7" cy="337.45" r="1.85" fill="#4cf035"/>
<circle cx="302.15" cy="337.45" r="1.85" fill="#4cf035"/>
<g opacity="0.75">
<line x1="254.1" y1="301.09" x2="254.1" y2="312.45" stroke="#2305ff" stroke-width="0.85"/>
<line x1="249.5" y1="301.09" x2="258.7" y2="301.09" stroke="#2305ff" stroke-width="0.85"/>
<line x1="249.5" y1="312.45" x2="258.7" y2="312.45" stroke="#2305ff" stroke-width="0.85"/>
</g>
<g opacity="0.75">
<line x1="273.8" y1="337.45" x2="273.8" y2="345.78" stroke="#ff1a0a" stroke-width="0.85"/>
<line x1="269.2" y1="337.45" x2="278.4" y2="337.45" stroke="#ff1a0a" stroke-width="0.85"/>
<line x1="269.2" y1="345.78" x2="278.4" y2="345.78" stroke="#ff1a0a" stroke-width="0.85"/>
</g>
<g opacity="0.75">
<line x1="293.6" y1="330.18" x2="293.6" y2="335.94" stroke="#4cf035" stroke-width="0.85"/>
<line x1="289" y1="330.18" x2="298.2" y2="330.18" stroke="#4cf035" stroke-width="0.85"/>
<line x1="289" y1="335.94" x2="298.2" y2="335.94" stroke="#4cf035" stroke-width="0.85"/>
</g>
<line x1="234.6" y1="352.6" x2="313.3" y2="352.6" stroke="#111" stroke-width="1.3"/>
<line x1="253.1" y1="262.1" x2="269.9" y2="262.1" stroke="#111" stroke-width="1.6"/>
<text x="261.5" y="260.9" font-size="13" class="a" font-weight="bold" text-anchor="middle" fill="#111" stroke="#111" stroke-width="0.25">***</text>
<line x1="275.2" y1="262.1" x2="291.8" y2="262.1" stroke="#111" stroke-width="1.6"/>
<text x="283.8" y="262.6" font-size="13" class="a" font-weight="bold" text-anchor="middle" fill="#111" stroke="#111" stroke-width="0.25">*</text>
<text x="337.8" y="239.8" font-size="18" class="s" font-weight="bold" stroke="#000" stroke-width="0.2">f</text>
<line x1="405.5" y1="259.3" x2="405.5" y2="352.25" stroke="#444" stroke-width="1.3"/>
<line x1="401.9" y1="351.6" x2="405.5" y2="351.6" stroke="#111" stroke-width="1.3"/>
<text x="400.7" y="353.95" font-size="6.9" class="s" font-weight="bold" text-anchor="end" fill="#111" stroke="#111" stroke-width="0.2">0</text>
<line x1="401.9" y1="320.93" x2="405.5" y2="320.93" stroke="#111" stroke-width="1.3"/>
<text x="400.7" y="323.28" font-size="6.9" class="s" font-weight="bold" text-anchor="end" fill="#111" stroke="#111" stroke-width="0.2">5000</text>
<line x1="401.9" y1="290.27" x2="405.5" y2="290.27" stroke="#111" stroke-width="1.3"/>
<text x="400.7" y="292.61" font-size="6.9" class="s" font-weight="bold" text-anchor="end" fill="#111" stroke="#111" stroke-width="0.2">10000</text>
<line x1="401.9" y1="259.6" x2="405.5" y2="259.6" stroke="#111" stroke-width="1.3"/>
<text x="400.7" y="261.95" font-size="6.9" class="s" font-weight="bold" text-anchor="end" fill="#111" stroke="#111" stroke-width="0.2">15000</text>
<line x1="405.5" y1="351.6" x2="481.9" y2="351.6" stroke="#111" stroke-width="1.3"/>
<text x="377.91" y="305.4" font-size="7.6" class="s" font-weight="bold" text-anchor="middle" fill="#111" stroke="#111" stroke-width="0.2" textLength="82" lengthAdjust="spacingAndGlyphs" transform="rotate(-90 377.91 305.4)">Distance Traveled (MM)</text>
<rect x="416.05" y="296.05" width="17.2" height="55.55" fill="#fff"/>
<path d="M416.05,351.6 L416.05,296.05 L433.25,296.05 L433.25,351.6" fill="none" stroke="#2305ff" stroke-width="1.5" stroke-linejoin="miter"/>
<rect x="435.15" y="300.95" width="17" height="50.65" fill="#fff"/>
<path d="M435.15,351.6 L435.15,300.95 L452.15,300.95 L452.15,351.6" fill="none" stroke="#ff1a0a" stroke-width="1.5" stroke-linejoin="miter"/>
<rect x="454.05" y="296.05" width="17.8" height="55.55" fill="#fff"/>
<path d="M454.05,351.6 L454.05,296.05 L471.85,296.05 L471.85,351.6" fill="none" stroke="#4cf035" stroke-width="1.5" stroke-linejoin="miter"/>
<circle cx="418.5" cy="288.5" r="1.85" fill="#2305ff"/>
<circle cx="418.5" cy="291.8" r="1.85" fill="#2305ff"/>
<circle cx="424.3" cy="287.5" r="1.85" fill="#2305ff"/>
<circle cx="424.3" cy="290.6" r="1.85" fill="#2305ff"/>
<circle cx="430.2" cy="292" r="1.85" fill="#2305ff"/>
<circle cx="430.2" cy="297.2" r="1.85" fill="#2305ff"/>
<circle cx="424.3" cy="299.5" r="1.85" fill="#2305ff"/>
<circle cx="421.3" cy="303" r="1.85" fill="#2305ff"/>
<circle cx="427.4" cy="302.5" r="1.85" fill="#2305ff"/>
<circle cx="424.3" cy="294.6" r="1.85" fill="#2305ff"/>
<circle cx="438" cy="286.2" r="1.85" fill="#ff1a0a"/>
<circle cx="449.4" cy="285.5" r="1.85" fill="#ff1a0a"/>
<circle cx="443.8" cy="288.1" r="1.85" fill="#ff1a0a"/>
<circle cx="443.8" cy="293.1" r="1.85" fill="#ff1a0a"/>
<circle cx="438.2" cy="304.6" r="1.85" fill="#ff1a0a"/>
<circle cx="443.8" cy="303.2" r="1.85" fill="#ff1a0a"/>
<circle cx="449.4" cy="305.9" r="1.85" fill="#ff1a0a"/>
<circle cx="443.8" cy="308.4" r="1.85" fill="#ff1a0a"/>
<circle cx="443.8" cy="320.8" r="1.85" fill="#ff1a0a"/>
<circle cx="443.8" cy="299.5" r="1.85" fill="#ff1a0a"/>
<circle cx="457.3" cy="283.8" r="1.85" fill="#4cf035"/>
<circle cx="462.9" cy="284.5" r="1.85" fill="#4cf035"/>
<circle cx="462.9" cy="289.7" r="1.85" fill="#4cf035"/>
<circle cx="457.3" cy="293.1" r="1.85" fill="#4cf035"/>
<circle cx="462.9" cy="293.1" r="1.85" fill="#4cf035"/>
<circle cx="468.5" cy="293.4" r="1.85" fill="#4cf035"/>
<circle cx="457.3" cy="300.4" r="1.85" fill="#4cf035"/>
<circle cx="457.3" cy="304.6" r="1.85" fill="#4cf035"/>
<circle cx="462.9" cy="302.8" r="1.85" fill="#4cf035"/>
<circle cx="468.5" cy="303" r="1.85" fill="#4cf035"/>
<g opacity="0.75">
<line x1="424.3" y1="293" x2="424.3" y2="297.6" stroke="#2305ff" stroke-width="0.85"/>
<line x1="420.1" y1="293" x2="428.5" y2="293" stroke="#2305ff" stroke-width="0.85"/>
<line x1="420.1" y1="297.6" x2="428.5" y2="297.6" stroke="#2305ff" stroke-width="0.85"/>
</g>
<g opacity="0.75">
<line x1="443.7" y1="296" x2="443.7" y2="303" stroke="#ff1a0a" stroke-width="0.85"/>
<line x1="439.5" y1="296" x2="447.9" y2="296" stroke="#ff1a0a" stroke-width="0.85"/>
<line x1="439.5" y1="303" x2="447.9" y2="303" stroke="#ff1a0a" stroke-width="0.85"/>
</g>
<g opacity="0.75">
<line x1="462.9" y1="292.5" x2="462.9" y2="297.2" stroke="#4cf035" stroke-width="0.85"/>
<line x1="458.3" y1="292.5" x2="467.5" y2="292.5" stroke="#4cf035" stroke-width="0.85"/>
<line x1="458.3" y1="297.2" x2="467.5" y2="297.2" stroke="#4cf035" stroke-width="0.85"/>
</g>
<line x1="405.5" y1="351.6" x2="481.9" y2="351.6" stroke="#111" stroke-width="1.3"/>
<line x1="424" y1="260.2" x2="466" y2="260.2" stroke="#111" stroke-width="1.5"/>
<text x="444.8" y="255.8" font-size="8.6" class="a" font-weight="normal" text-anchor="middle" fill="#111" stroke="#111" stroke-width="0.2">ns</text>
<text x="508.6" y="240" font-size="18" class="s" font-weight="bold" stroke="#000" stroke-width="0.2">g</text>
<line x1="546.2" y1="275.5" x2="615" y2="275.5" stroke="#1a1a1a" stroke-width="1.1"/>
<line x1="546.2" y1="247.4" x2="546.2" y2="275.5" stroke="#333" stroke-width="0.6" stroke-dasharray="2,1.3"/>
<path d="M551.2,273.2 L551.2,279.3 A3.2,1.2 0 0 0 557.6,279.3 L557.6,273.2 Z" fill="#4472c4"/>
<ellipse cx="554.4" cy="273.2" rx="3.2" ry="1.2" fill="#5b86d6" stroke="#3a62ad" stroke-width="0.4"/>
<path d="M543.1,280.7 L543.1,286.8 A3.2,1.2 0 0 0 549.5,286.8 L549.5,280.7 Z" fill="#4472c4"/>
<ellipse cx="546.3" cy="280.7" rx="3.2" ry="1.2" fill="#5b86d6" stroke="#3a62ad" stroke-width="0.4"/>
<ellipse cx="590.7" cy="285.8" rx="7.8" ry="1.2" fill="#e8e8e8"/>
<path d="M583.2,284.4 C584.2,281.7 586.7,281 588.2,281.4 C590.2,280 594.2,280.4 596.2,282.7 C597.7,284.2 597.7,285.7 596.2,286 L587.2,285.8 C585.2,285.4 584.2,285.2 583.2,284.4 Z" fill="#111"/>
<circle cx="587.4" cy="281.1" r="1.1" fill="#111"/>
<rect x="533.4" y="261.4" width="68.8" height="28.1" fill="none" stroke="#1a1a1a" stroke-width="1.2"/>
<path d="M533.4,261.4 L546.2,247.4 L615,247.4 L602.2,261.4" fill="none" stroke="#1a1a1a" stroke-width="1.2"/>
<line x1="615" y1="247.4" x2="615" y2="275.5" stroke="#1a1a1a" stroke-width="1.1"/>
<line x1="602.2" y1="289.5" x2="615" y2="275.5" stroke="#1a1a1a" stroke-width="1.1"/>
<line x1="533.4" y1="289.5" x2="546.2" y2="275.5" stroke="#1a1a1a" stroke-width="1.1"/>
<path d="M568.1,294.6 L575.1,294.6 L575.1,301.6 L577.9,301.6 L571.5,308.8 L565,301.6 L568.1,301.6 Z" fill="#4472c4"/>
<line x1="545.4" y1="339.1" x2="614.6" y2="339.1" stroke="#1a1a1a" stroke-width="1.1"/>
<line x1="545.4" y1="311.4" x2="545.4" y2="339.1" stroke="#333" stroke-width="0.6" stroke-dasharray="2,1.3"/>
<path d="M545.1,340.6 L551,349.5 L539.2,349.5 Z" fill="#4472c4"/>
<path d="M550.9,335.9 L550.9,342.6 A3.2,1.2 0 0 0 557.3,342.6 L557.3,335.9 Z" fill="#4472c4"/>
<ellipse cx="554.1" cy="335.9" rx="3.2" ry="1.2" fill="#5b86d6" stroke="#3a62ad" stroke-width="0.4"/>
<ellipse cx="589.8" cy="349.4" rx="7.8" ry="1.2" fill="#e8e8e8"/>
<path d="M582.3,348 C583.3,345.3 585.8,344.6 587.3,345 C589.3,343.6 593.3,344 595.3,346.3 C596.8,347.8 596.8,349.3 595.3,349.6 L586.3,349.4 C584.3,349 583.3,348.8 582.3,348 Z" fill="#111"/>
<circle cx="586.5" cy="344.7" r="1.1" fill="#111"/>
<rect x="532.7" y="325.6" width="69.2" height="27.7" fill="none" stroke="#1a1a1a" stroke-width="1.2"/>
<path d="M532.7,325.6 L545.4,311.4 L614.6,311.4 L601.9,325.6" fill="none" stroke="#1a1a1a" stroke-width="1.2"/>
<line x1="614.6" y1="311.4" x2="614.6" y2="339.1" stroke="#1a1a1a" stroke-width="1.1"/>
<line x1="601.9" y1="353.3" x2="614.6" y2="339.1" stroke="#1a1a1a" stroke-width="1.1"/>
<line x1="532.7" y1="353.3" x2="545.4" y2="339.1" stroke="#1a1a1a" stroke-width="1.1"/>
<text x="2.8" y="392.6" font-size="18" class="s" font-weight="bold" stroke="#000" stroke-width="0.2">h</text>
<line x1="65" y1="405.7" x2="65" y2="512.15" stroke="#333" stroke-width="1.3"/>
<line x1="61.4" y1="511.5" x2="65" y2="511.5" stroke="#111" stroke-width="1.3"/>
<text x="59.2" y="514.29" font-size="8.2" class="s" font-weight="bold" text-anchor="end" fill="#111" stroke="#111" stroke-width="0.2">0</text>
<line x1="61.4" y1="490.4" x2="65" y2="490.4" stroke="#111" stroke-width="1.3"/>
<text x="59.2" y="493.19" font-size="8.2" class="s" font-weight="bold" text-anchor="end" fill="#111" stroke="#111" stroke-width="0.2">50</text>
<line x1="61.4" y1="469.3" x2="65" y2="469.3" stroke="#111" stroke-width="1.3"/>
<text x="59.2" y="472.09" font-size="8.2" class="s" font-weight="bold" text-anchor="end" fill="#111" stroke="#111" stroke-width="0.2">100</text>
<line x1="61.4" y1="448.2" x2="65" y2="448.2" stroke="#111" stroke-width="1.3"/>
<text x="59.2" y="450.99" font-size="8.2" class="s" font-weight="bold" text-anchor="end" fill="#111" stroke="#111" stroke-width="0.2">150</text>
<line x1="61.4" y1="427.1" x2="65" y2="427.1" stroke="#111" stroke-width="1.3"/>
<text x="59.2" y="429.89" font-size="8.2" class="s" font-weight="bold" text-anchor="end" fill="#111" stroke="#111" stroke-width="0.2">200</text>
<line x1="61.4" y1="406" x2="65" y2="406" stroke="#111" stroke-width="1.3"/>
<text x="59.2" y="408.79" font-size="8.2" class="s" font-weight="bold" text-anchor="end" fill="#111" stroke="#111" stroke-width="0.2">250</text>
<line x1="65" y1="511.5" x2="176.7" y2="511.5" stroke="#111" stroke-width="1.3"/>
<line x1="83.5" y1="511.5" x2="83.5" y2="515.2" stroke="#111" stroke-width="1.2"/>
<line x1="120.5" y1="511.5" x2="120.5" y2="515.2" stroke="#111" stroke-width="1.2"/>
<line x1="157.7" y1="511.5" x2="157.7" y2="515.2" stroke="#111" stroke-width="1.2"/>
<text x="40.87" y="458.3" font-size="9" class="s" font-weight="bold" text-anchor="middle" fill="#111" stroke="#111" stroke-width="0.2" textLength="82.3" lengthAdjust="spacingAndGlyphs" transform="rotate(-90 40.87 458.3)">Exploration Time (S)</text>
<rect x="72.2" y="478" width="11.1" height="33.5" fill="#fff"/>
<path d="M72.2,511.5 L72.2,478 L83.3,478 L83.3,511.5" fill="none" stroke="#2305ff" stroke-width="1.6" stroke-linejoin="miter"/>
<rect x="84.3" y="455.8" width="10.9" height="55.7" fill="#fff"/>
<path d="M84.3,511.5 L84.3,455.8 L95.2,455.8 L95.2,511.5" fill="none" stroke="#ff1a0a" stroke-width="1.6" stroke-linejoin="miter"/>
<rect x="109.2" y="480.6" width="11" height="30.9" fill="#fff"/>
<path d="M109.2,511.5 L109.2,480.6 L120.2,480.6 L120.2,511.5" fill="none" stroke="#2305ff" stroke-width="1.6" stroke-linejoin="miter"/>
<rect x="121.3" y="499.1" width="10.8" height="12.4" fill="#fff"/>
<path d="M121.3,511.5 L121.3,499.1 L132.1,499.1 L132.1,511.5" fill="none" stroke="#ff1a0a" stroke-width="1.6" stroke-linejoin="miter"/>
<rect x="146.6" y="477.1" width="11" height="34.4" fill="#fff"/>
<path d="M146.6,511.5 L146.6,477.1 L157.6,477.1 L157.6,511.5" fill="none" stroke="#2305ff" stroke-width="1.6" stroke-linejoin="miter"/>
<rect x="158.7" y="467" width="10.4" height="44.5" fill="#fff"/>
<path d="M158.7,511.5 L158.7,467 L169.1,467 L169.1,511.5" fill="none" stroke="#ff1a0a" stroke-width="1.6" stroke-linejoin="miter"/>
<circle cx="72.7" cy="461.1" r="1.85" fill="#2305ff"/>
<circle cx="81.7" cy="458" r="1.85" fill="#2305ff"/>
<circle cx="72.7" cy="471.5" r="1.85" fill="#2305ff"/>
<circle cx="81.7" cy="469.7" r="1.85" fill="#2305ff"/>
<circle cx="81.7" cy="473.1" r="1.85" fill="#2305ff"/>
<circle cx="72.7" cy="477" r="1.85" fill="#2305ff"/>
<circle cx="81.7" cy="480.1" r="1.85" fill="#2305ff"/>
<circle cx="77.2" cy="485" r="1.85" fill="#2305ff"/>
<circle cx="72.7" cy="501.6" r="1.85" fill="#2305ff"/>
<circle cx="81.7" cy="501.3" r="1.85" fill="#2305ff"/>
<circle cx="85.2" cy="433.5" r="1.85" fill="#ff1a0a"/>
<circle cx="89.5" cy="434.7" r="1.85" fill="#ff1a0a"/>
<circle cx="94.4" cy="433.1" r="1.85" fill="#ff1a0a"/>
<circle cx="89.5" cy="440.3" r="1.85" fill="#ff1a0a"/>
<circle cx="87.6" cy="449.8" r="1.85" fill="#ff1a0a"/>
<circle cx="91.9" cy="449.8" r="1.85" fill="#ff1a0a"/>
<circle cx="87.6" cy="467.2" r="1.85" fill="#ff1a0a"/>
<circle cx="91.9" cy="466" r="1.85" fill="#ff1a0a"/>
<circle cx="89.5" cy="480.7" r="1.85" fill="#ff1a0a"/>
<circle cx="89.5" cy="489.1" r="1.85" fill="#ff1a0a"/>
<circle cx="114.8" cy="433.2" r="1.85" fill="#2305ff"/>
<circle cx="114.8" cy="467.5" r="1.85" fill="#2305ff"/>
<circle cx="114.8" cy="474.7" r="1.85" fill="#2305ff"/>
<circle cx="119.2" cy="483.1" r="1.85" fill="#2305ff"/>
<circle cx="114.8" cy="492.8" r="1.85" fill="#2305ff"/>
<circle cx="114.8" cy="497" r="1.85" fill="#2305ff"/>
<circle cx="114.8" cy="504.2" r="1.85" fill="#2305ff"/>
<circle cx="126.8" cy="481.4" r="1.85" fill="#ff1a0a"/>
<circle cx="126.8" cy="484.6" r="1.85" fill="#ff1a0a"/>
<circle cx="126.8" cy="492.2" r="1.85" fill="#ff1a0a"/>
<circle cx="126.8" cy="497.5" r="1.85" fill="#ff1a0a"/>
<circle cx="122.8" cy="504.6" r="1.85" fill="#ff1a0a"/>
<circle cx="131.3" cy="504.6" r="1.85" fill="#ff1a0a"/>
<circle cx="122.8" cy="509.7" r="1.85" fill="#ff1a0a"/>
<circle cx="131.3" cy="509.3" r="1.85" fill="#ff1a0a"/>
<circle cx="151.9" cy="455.2" r="1.85" fill="#2305ff"/>
<circle cx="151.9" cy="464.5" r="1.85" fill="#2305ff"/>
<circle cx="151.9" cy="470.9" r="1.85" fill="#2305ff"/>
<circle cx="147.4" cy="477" r="1.85" fill="#2305ff"/>
<circle cx="151.9" cy="475.7" r="1.85" fill="#2305ff"/>
<circle cx="156.2" cy="477" r="1.85" fill="#2305ff"/>
<circle cx="149.4" cy="484.3" r="1.85" fill="#2305ff"/>
<circle cx="154.1" cy="483.3" r="1.85" fill="#2305ff"/>
<circle cx="151.9" cy="491.5" r="1.85" fill="#2305ff"/>
<circle cx="151.9" cy="496" r="1.85" fill="#2305ff"/>
<circle cx="164.2" cy="426.9" r="1.85" fill="#ff1a0a"/>
<circle cx="164.2" cy="447.2" r="1.85" fill="#ff1a0a"/>
<circle cx="164.2" cy="451.9" r="1.85" fill="#ff1a0a"/>
<circle cx="159.5" cy="461.8" r="1.85" fill="#ff1a0a"/>
<circle cx="164.2" cy="458.6" r="1.85" fill="#ff1a0a"/>
<circle cx="168.9" cy="459" r="1.85" fill="#ff1a0a"/>
<circle cx="164.2" cy="473.4" r="1.85" fill="#ff1a0a"/>
<circle cx="164.2" cy="484.6" r="1.85" fill="#ff1a0a"/>
<circle cx="164.2" cy="495.4" r="1.85" fill="#ff1a0a"/>
<circle cx="164.2" cy="498.8" r="1.85" fill="#ff1a0a"/>
<g opacity="0.75">
<line x1="77.2" y1="473.6" x2="77.2" y2="482" stroke="#2305ff" stroke-width="0.85"/>
<line x1="74.1" y1="473.6" x2="80.3" y2="473.6" stroke="#2305ff" stroke-width="0.85"/>
<line x1="74.1" y1="482" x2="80.3" y2="482" stroke="#2305ff" stroke-width="0.85"/>
</g>
<g opacity="0.75">
<line x1="89.5" y1="448.8" x2="89.5" y2="460.9" stroke="#ff1a0a" stroke-width="0.85"/>
<line x1="86.4" y1="448.8" x2="92.6" y2="448.8" stroke="#ff1a0a" stroke-width="0.85"/>
<line x1="86.4" y1="460.9" x2="92.6" y2="460.9" stroke="#ff1a0a" stroke-width="0.85"/>
</g>
<g opacity="0.75">
<line x1="114.8" y1="471.3" x2="114.8" y2="487.1" stroke="#2305ff" stroke-width="0.85"/>
<line x1="111.7" y1="471.3" x2="117.9" y2="471.3" stroke="#2305ff" stroke-width="0.85"/>
<line x1="111.7" y1="487.1" x2="117.9" y2="487.1" stroke="#2305ff" stroke-width="0.85"/>
</g>
<g opacity="0.75">
<line x1="126.8" y1="494.5" x2="126.8" y2="501" stroke="#ff1a0a" stroke-width="0.85"/>
<line x1="123.7" y1="494.5" x2="129.9" y2="494.5" stroke="#ff1a0a" stroke-width="0.85"/>
<line x1="123.7" y1="501" x2="129.9" y2="501" stroke="#ff1a0a" stroke-width="0.85"/>
</g>
<g opacity="0.75">
<line x1="151.9" y1="473.4" x2="151.9" y2="480.8" stroke="#2305ff" stroke-width="0.85"/>
<line x1="148.8" y1="473.4" x2="155" y2="473.4" stroke="#2305ff" stroke-width="0.85"/>
<line x1="148.8" y1="480.8" x2="155" y2="480.8" stroke="#2305ff" stroke-width="0.85"/>
</g>
<g opacity="0.75">
<line x1="164.2" y1="459" x2="164.2" y2="473.2" stroke="#ff1a0a" stroke-width="0.85"/>
<line x1="161.1" y1="459" x2="167.3" y2="459" stroke="#ff1a0a" stroke-width="0.85"/>
<line x1="161.1" y1="473.2" x2="167.3" y2="473.2" stroke="#ff1a0a" stroke-width="0.85"/>
</g>
<line x1="65" y1="511.5" x2="176.7" y2="511.5" stroke="#111" stroke-width="1.3"/>
<line x1="75.9" y1="422.4" x2="95.1" y2="422.4" stroke="#111" stroke-width="1.6"/>
<text x="85.35" y="422" font-size="13" class="a" font-weight="bold" text-anchor="middle" fill="#111" stroke="#111" stroke-width="0.25">***</text>
<line x1="113.1" y1="422.4" x2="131.8" y2="422.4" stroke="#111" stroke-width="1.6"/>
<text x="122.2" y="416.9" font-size="11.6" class="a" font-weight="normal" text-anchor="middle" fill="#111" stroke="#111" stroke-width="0.2">ns</text>
<line x1="145.7" y1="422.4" x2="164.5" y2="422.4" stroke="#111" stroke-width="1.6"/>
<text x="155.25" y="422" font-size="13" class="a" font-weight="bold" text-anchor="middle" fill="#111" stroke="#111" stroke-width="0.25">*</text>
<circle cx="79.4" cy="394.3" r="1.9" fill="#2305ff"/>
<circle cx="129.4" cy="394.3" r="1.9" fill="#ff1a0a"/>
<text x="92.2" y="397.4" font-size="8.6" class="s" fill="#222" stroke="#222" stroke-width="0.2" textLength="18.2" lengthAdjust="spacingAndGlyphs">Day1</text>
<text x="142" y="397.4" font-size="8.6" class="s" fill="#222" stroke="#222" stroke-width="0.2" textLength="19" lengthAdjust="spacingAndGlyphs">Day2</text>
<text x="85.6" y="523.9" font-size="8.2" class="s" font-weight="bold" text-anchor="end" fill="#111" stroke="#111" stroke-width="0.2" textLength="13.2" lengthAdjust="spacingAndGlyphs" transform="rotate(-45 85.6 523.9)">WT</text>
<text x="123.2" y="523.9" font-size="8.2" class="s" font-weight="bold" text-anchor="end" fill="#111" stroke="#111" stroke-width="0.2" textLength="32.6" lengthAdjust="spacingAndGlyphs" transform="rotate(-45 123.2 523.9)">3xTg-AD</text>
<text x="161" y="524.4" font-size="8.2" class="s" font-weight="bold" text-anchor="end" fill="#111" stroke="#111" stroke-width="0.2" textLength="62.5" lengthAdjust="spacingAndGlyphs" transform="rotate(-45 161 524.4)">3xTg-AD+β-OHB</text>
<text x="197" y="391.9" font-size="18" class="s" font-weight="bold" stroke="#000" stroke-width="0.2">i</text>
<line x1="278.2" y1="405.2" x2="278.2" y2="510.25" stroke="#777" stroke-width="1.3"/>
<line x1="274.6" y1="509.6" x2="278.2" y2="509.6" stroke="#111" stroke-width="1.3"/>
<text x="272.4" y="512.32" font-size="8.0" class="s" font-weight="bold" text-anchor="end" fill="#111" stroke="#111" stroke-width="0.2">0</text>
<line x1="274.6" y1="488.78" x2="278.2" y2="488.78" stroke="#111" stroke-width="1.3"/>
<text x="272.4" y="491.5" font-size="8.0" class="s" font-weight="bold" text-anchor="end" fill="#111" stroke="#111" stroke-width="0.2">50</text>
<line x1="274.6" y1="467.96" x2="278.2" y2="467.96" stroke="#111" stroke-width="1.3"/>
<text x="272.4" y="470.68" font-size="8.0" class="s" font-weight="bold" text-anchor="end" fill="#111" stroke="#111" stroke-width="0.2">100</text>
<line x1="274.6" y1="447.14" x2="278.2" y2="447.14" stroke="#111" stroke-width="1.3"/>
<text x="272.4" y="449.86" font-size="8.0" class="s" font-weight="bold" text-anchor="end" fill="#111" stroke="#111" stroke-width="0.2">150</text>
<line x1="274.6" y1="426.32" x2="278.2" y2="426.32" stroke="#111" stroke-width="1.3"/>
<text x="272.4" y="429.04" font-size="8.0" class="s" font-weight="bold" text-anchor="end" fill="#111" stroke="#111" stroke-width="0.2">200</text>
<line x1="274.6" y1="405.5" x2="278.2" y2="405.5" stroke="#111" stroke-width="1.3"/>
<text x="272.4" y="408.22" font-size="8.0" class="s" font-weight="bold" text-anchor="end" fill="#111" stroke="#111" stroke-width="0.2">250</text>
<line x1="303.9" y1="509.6" x2="303.9" y2="513.2" stroke="#111" stroke-width="1.2"/>
<line x1="356.1" y1="509.6" x2="356.1" y2="513.2" stroke="#111" stroke-width="1.2"/>
<text x="303.9" y="522.2" font-size="8.6" class="s" font-weight="bold" text-anchor="middle" fill="#111" stroke="#111" stroke-width="0.2" textLength="17.5" lengthAdjust="spacingAndGlyphs">Day1</text>
<text x="356.1" y="521.8" font-size="8.6" class="s" font-weight="bold" text-anchor="middle" fill="#111" stroke="#111" stroke-width="0.2" textLength="17.5" lengthAdjust="spacingAndGlyphs">Day2</text>
<text x="255.44" y="457" font-size="8.6" class="s" font-weight="bold" text-anchor="middle" fill="#111" stroke="#111" stroke-width="0.2" textLength="78.2" lengthAdjust="spacingAndGlyphs" transform="rotate(-90 255.44 457)">Exploration Time (S)</text>
<rect x="285.4" y="477.1" width="11.2" height="32.5" fill="#fff"/>
<path d="M285.4,509.6 L285.4,477.1 L296.6,477.1 L296.6,509.6" fill="none" stroke="#2305ff" stroke-width="1.8" stroke-linejoin="miter"/>
<rect x="298.1" y="475.1" width="11.2" height="34.5" fill="#fff"/>
<path d="M298.1,509.6 L298.1,475.1 L309.3,475.1 L309.3,509.6" fill="none" stroke="#ff1a0a" stroke-width="1.8" stroke-linejoin="miter"/>
<rect x="310.9" y="476.4" width="11.3" height="33.2" fill="#fff"/>
<path d="M310.9,509.6 L310.9,476.4 L322.2,476.4 L322.2,509.6" fill="none" stroke="#4cf035" stroke-width="1.8" stroke-linejoin="miter"/>
<rect x="337.9" y="454.5" width="11.2" height="55.1" fill="#fff"/>
<path d="M337.9,509.6 L337.9,454.5 L349.1,454.5 L349.1,509.6" fill="none" stroke="#2305ff" stroke-width="1.8" stroke-linejoin="miter"/>
<rect x="350.5" y="494.1" width="11.4" height="15.5" fill="#fff"/>
<path d="M350.5,509.6 L350.5,494.1 L361.9,494.1 L361.9,509.6" fill="none" stroke="#ff1a0a" stroke-width="1.8" stroke-linejoin="miter"/>
<rect x="363.3" y="466.3" width="11.3" height="43.3" fill="#fff"/>
<path d="M363.3,509.6 L363.3,466.3 L374.6,466.3 L374.6,509.6" fill="none" stroke="#4cf035" stroke-width="1.8" stroke-linejoin="miter"/>
<circle cx="287.9" cy="459.5" r="1.85" fill="#2305ff"/>
<circle cx="294.2" cy="457" r="1.85" fill="#2305ff"/>
<circle cx="287.9" cy="470" r="1.85" fill="#2305ff"/>
<circle cx="294.2" cy="468.1" r="1.85" fill="#2305ff"/>
<circle cx="294.2" cy="471.3" r="1.85" fill="#2305ff"/>
<circle cx="287.6" cy="475.8" r="1.85" fill="#2305ff"/>
<circle cx="291.2" cy="483.4" r="1.85" fill="#2305ff"/>
<circle cx="294.2" cy="478.3" r="1.85" fill="#2305ff"/>
<circle cx="287.9" cy="499.9" r="1.85" fill="#2305ff"/>
<circle cx="294.2" cy="499.2" r="1.85" fill="#2305ff"/>
<circle cx="303.9" cy="432.2" r="1.85" fill="#ff1a0a"/>
<circle cx="303.9" cy="441.5" r="1.85" fill="#ff1a0a"/>
<circle cx="303.9" cy="465.9" r="1.85" fill="#ff1a0a"/>
<circle cx="303.9" cy="473.2" r="1.85" fill="#ff1a0a"/>
<circle cx="299" cy="479.6" r="1.85" fill="#ff1a0a"/>
<circle cx="308.9" cy="478.3" r="1.85" fill="#ff1a0a"/>
<circle cx="303.9" cy="481.5" r="1.85" fill="#ff1a0a"/>
<circle cx="303.9" cy="491" r="1.85" fill="#ff1a0a"/>
<circle cx="303.9" cy="494.8" r="1.85" fill="#ff1a0a"/>
<circle cx="303.9" cy="502" r="1.85" fill="#ff1a0a"/>
<circle cx="316.8" cy="453.9" r="1.85" fill="#4cf035"/>
<circle cx="316.8" cy="463.1" r="1.85" fill="#4cf035"/>
<circle cx="316.8" cy="469.4" r="1.85" fill="#4cf035"/>
<circle cx="311.7" cy="474.5" r="1.85" fill="#4cf035"/>
<circle cx="316.8" cy="475.1" r="1.85" fill="#4cf035"/>
<circle cx="321.9" cy="473.9" r="1.85" fill="#4cf035"/>
<circle cx="321.9" cy="481.5" r="1.85" fill="#4cf035"/>
<circle cx="316.8" cy="482.7" r="1.85" fill="#4cf035"/>
<circle cx="316.8" cy="490" r="1.85" fill="#4cf035"/>
<circle cx="316.8" cy="494.2" r="1.85" fill="#4cf035"/>
<circle cx="338.1" cy="432.8" r="1.85" fill="#2305ff"/>
<circle cx="343.1" cy="432.4" r="1.85" fill="#2305ff"/>
<circle cx="348" cy="434.1" r="1.85" fill="#2305ff"/>
<circle cx="343.1" cy="439.5" r="1.85" fill="#2305ff"/>
<circle cx="340.4" cy="448.5" r="1.85" fill="#2305ff"/>
<circle cx="345.4" cy="448.5" r="1.85" fill="#2305ff"/>
<circle cx="343.1" cy="465.7" r="1.85" fill="#2305ff"/>
<circle cx="348" cy="464.3" r="1.85" fill="#2305ff"/>
<circle cx="343.1" cy="479.1" r="1.85" fill="#2305ff"/>
<circle cx="343.1" cy="487.4" r="1.85" fill="#2305ff"/>
<circle cx="351.1" cy="479.8" r="1.85" fill="#ff1a0a"/>
<circle cx="356.1" cy="480.2" r="1.85" fill="#ff1a0a"/>
<circle cx="360.9" cy="478" r="1.85" fill="#ff1a0a"/>
<circle cx="356.1" cy="483.8" r="1.85" fill="#ff1a0a"/>
<circle cx="356.1" cy="490.5" r="1.85" fill="#ff1a0a"/>
<circle cx="353.4" cy="502.2" r="1.85" fill="#ff1a0a"/>
<circle cx="358.5" cy="499.5" r="1.85" fill="#ff1a0a"/>
<circle cx="353.4" cy="508.6" r="1.85" fill="#ff1a0a"/>
<circle cx="358.5" cy="507.3" r="1.85" fill="#ff1a0a"/>
<circle cx="369" cy="426" r="1.85" fill="#4cf035"/>
<circle cx="369" cy="445.8" r="1.85" fill="#4cf035"/>
<circle cx="369" cy="450.6" r="1.85" fill="#4cf035"/>
<circle cx="364.2" cy="457.3" r="1.85" fill="#4cf035"/>
<circle cx="374" cy="457.6" r="1.85" fill="#4cf035"/>
<circle cx="369" cy="460.3" r="1.85" fill="#4cf035"/>
<circle cx="369" cy="471.7" r="1.85" fill="#4cf035"/>
<circle cx="369" cy="483.1" r="1.85" fill="#4cf035"/>
<circle cx="369" cy="493.2" r="1.85" fill="#4cf035"/>
<circle cx="369" cy="497.2" r="1.85" fill="#4cf035"/>
<g opacity="0.75">
<line x1="291.2" y1="471.7" x2="291.2" y2="480.8" stroke="#2305ff" stroke-width="0.85"/>
<line x1="288.2" y1="471.7" x2="294.2" y2="471.7" stroke="#2305ff" stroke-width="0.85"/>
<line x1="288.2" y1="480.8" x2="294.2" y2="480.8" stroke="#2305ff" stroke-width="0.85"/>
</g>
<g opacity="0.75">
<line x1="303.9" y1="465.6" x2="303.9" y2="480.8" stroke="#ff1a0a" stroke-width="0.85"/>
<line x1="300.9" y1="465.6" x2="306.9" y2="465.6" stroke="#ff1a0a" stroke-width="0.85"/>
<line x1="300.9" y1="480.8" x2="306.9" y2="480.8" stroke="#ff1a0a" stroke-width="0.85"/>
</g>
<g opacity="0.75">
<line x1="316.8" y1="472.2" x2="316.8" y2="479.6" stroke="#4cf035" stroke-width="0.85"/>
<line x1="313.8" y1="472.2" x2="319.8" y2="472.2" stroke="#4cf035" stroke-width="0.85"/>
<line x1="313.8" y1="479.6" x2="319.8" y2="479.6" stroke="#4cf035" stroke-width="0.85"/>
</g>
<g opacity="0.75">
<line x1="343.1" y1="446.9" x2="343.1" y2="459.3" stroke="#2305ff" stroke-width="0.85"/>
<line x1="340.3" y1="446.9" x2="345.9" y2="446.9" stroke="#2305ff" stroke-width="0.85"/>
<line x1="340.3" y1="459.3" x2="345.9" y2="459.3" stroke="#2305ff" stroke-width="0.85"/>
</g>
<g opacity="0.75">
<line x1="356.1" y1="489.2" x2="356.1" y2="496" stroke="#ff1a0a" stroke-width="0.85"/>
<line x1="353.3" y1="489.2" x2="358.9" y2="489.2" stroke="#ff1a0a" stroke-width="0.85"/>
<line x1="353.3" y1="496" x2="358.9" y2="496" stroke="#ff1a0a" stroke-width="0.85"/>
</g>
<g opacity="0.75">
<line x1="369" y1="456.9" x2="369" y2="471.7" stroke="#4cf035" stroke-width="0.85"/>
<line x1="366.2" y1="456.9" x2="371.8" y2="456.9" stroke="#4cf035" stroke-width="0.85"/>
<line x1="366.2" y1="471.7" x2="371.8" y2="471.7" stroke="#4cf035" stroke-width="0.85"/>
</g>
<line x1="278.2" y1="509.6" x2="382.2" y2="509.6" stroke="#111" stroke-width="1.3"/>
<line x1="286.3" y1="419.1" x2="323.8" y2="419.1" stroke="#111" stroke-width="1.6"/>
<text x="304.75" y="414" font-size="8.4" class="s" font-weight="bold" text-anchor="middle" fill="#111" stroke="#111" stroke-width="0.2" textLength="6.9" lengthAdjust="spacingAndGlyphs">ns</text>
<line x1="339.5" y1="420.3" x2="355.9" y2="420.3" stroke="#111" stroke-width="1.6"/>
<text x="347.4" y="420" font-size="13" class="a" font-weight="bold" text-anchor="middle" fill="#111" stroke="#111" stroke-width="0.25">***</text>
<line x1="358" y1="420.3" x2="373.9" y2="420.3" stroke="#111" stroke-width="1.6"/>
<text x="365.6" y="420" font-size="13" class="a" font-weight="bold" text-anchor="middle" fill="#111" stroke="#111" stroke-width="0.25">**</text>
<text x="408" y="391.9" font-size="18" class="s" font-weight="bold" stroke="#000" stroke-width="0.2">j</text>
<line x1="494.6" y1="407.2" x2="494.6" y2="508.55" stroke="#111" stroke-width="1.3"/>
<line x1="491" y1="407.5" x2="494.6" y2="407.5" stroke="#111" stroke-width="1.3"/>
<text x="489.8" y="410.22" font-size="8.0" class="s" font-weight="bold" text-anchor="end" fill="#111" stroke="#111" stroke-width="0.2">1.0</text>
<line x1="491" y1="432.6" x2="494.6" y2="432.6" stroke="#111" stroke-width="1.3"/>
<text x="489.8" y="435.32" font-size="8.0" class="s" font-weight="bold" text-anchor="end" fill="#111" stroke="#111" stroke-width="0.2">0.5</text>
<line x1="491" y1="457.7" x2="494.6" y2="457.7" stroke="#111" stroke-width="1.3"/>
<text x="489.8" y="460.42" font-size="8.0" class="s" font-weight="bold" text-anchor="end" fill="#111" stroke="#111" stroke-width="0.2">0.0</text>
<line x1="491" y1="482.8" x2="494.6" y2="482.8" stroke="#111" stroke-width="1.3"/>
<text x="489.8" y="485.52" font-size="8.0" class="s" font-weight="bold" text-anchor="end" fill="#111" stroke="#111" stroke-width="0.2">-0.5</text>
<line x1="491" y1="507.9" x2="494.6" y2="507.9" stroke="#111" stroke-width="1.3"/>
<text x="489.8" y="510.62" font-size="8.0" class="s" font-weight="bold" text-anchor="end" fill="#111" stroke="#111" stroke-width="0.2">-1.0</text>
<rect x="506.7" y="445" width="18.1" height="12.7" fill="#fff"/>
<path d="M506.7,457.7 L506.7,445 L524.8,445 L524.8,457.7" fill="none" stroke="#2305ff" stroke-width="2.0" stroke-linejoin="miter"/>
<rect x="527.7" y="457.7" width="18.1" height="17.6" fill="#fff"/>
<path d="M527.7,457.7 L527.7,475.3 L545.8,475.3 L545.8,457.7" fill="none" stroke="#ff1a0a" stroke-width="2.0" stroke-linejoin="miter"/>
<rect x="548.7" y="454.2" width="18.1" height="3.5" fill="#fff"/>
<path d="M548.7,457.7 L548.7,454.2 L566.8,454.2 L566.8,457.7" fill="none" stroke="#4cf035" stroke-width="2.0" stroke-linejoin="miter"/>
<circle cx="515.7" cy="433.1" r="1.85" fill="#2305ff"/>
<circle cx="512.4" cy="437.8" r="1.85" fill="#2305ff"/>
<circle cx="518.5" cy="437.8" r="1.85" fill="#2305ff"/>
<circle cx="506.6" cy="442.6" r="1.85" fill="#2305ff"/>
<circle cx="512.7" cy="443.1" r="1.85" fill="#2305ff"/>
<circle cx="524.1" cy="444.8" r="1.85" fill="#2305ff"/>
<circle cx="512.4" cy="448" r="1.85" fill="#2305ff"/>
<circle cx="518.8" cy="446.6" r="1.85" fill="#2305ff"/>
<circle cx="524.1" cy="449.2" r="1.85" fill="#2305ff"/>
<circle cx="515.7" cy="452.3" r="1.85" fill="#2305ff"/>
<circle cx="530.2" cy="457.1" r="1.85" fill="#ff1a0a"/>
<circle cx="536.9" cy="457.1" r="1.85" fill="#ff1a0a"/>
<circle cx="543.3" cy="459.3" r="1.85" fill="#ff1a0a"/>
<circle cx="536.9" cy="461.1" r="1.85" fill="#ff1a0a"/>
<circle cx="536.9" cy="480.3" r="1.85" fill="#ff1a0a"/>
<circle cx="536.9" cy="489.4" r="1.85" fill="#ff1a0a"/>
<circle cx="536.9" cy="495.5" r="1.85" fill="#ff1a0a"/>
<circle cx="530.2" cy="499.5" r="1.85" fill="#ff1a0a"/>
<circle cx="543.3" cy="497.8" r="1.85" fill="#ff1a0a"/>
<circle cx="554.7" cy="444" r="1.85" fill="#4cf035"/>
<circle cx="549.1" cy="447.4" r="1.85" fill="#4cf035"/>
<circle cx="554.7" cy="448" r="1.85" fill="#4cf035"/>
<circle cx="560.8" cy="446.6" r="1.85" fill="#4cf035"/>
<circle cx="566.6" cy="445.7" r="1.85" fill="#4cf035"/>
<circle cx="555" cy="457.1" r="1.85" fill="#4cf035"/>
<circle cx="560.8" cy="458" r="1.85" fill="#4cf035"/>
<circle cx="566.6" cy="455.3" r="1.85" fill="#4cf035"/>
<circle cx="557.8" cy="468.8" r="1.85" fill="#4cf035"/>
<g opacity="0.75">
<line x1="515.8" y1="442.3" x2="515.8" y2="446" stroke="#2305ff" stroke-width="0.85"/>
<line x1="511.6" y1="442.3" x2="520" y2="442.3" stroke="#2305ff" stroke-width="0.85"/>
<line x1="511.6" y1="446" x2="520" y2="446" stroke="#2305ff" stroke-width="0.85"/>
</g>
<g opacity="0.75">
<line x1="536.8" y1="471.6" x2="536.8" y2="482.4" stroke="#ff1a0a" stroke-width="0.85"/>
<line x1="531.8" y1="471.6" x2="541.8" y2="471.6" stroke="#ff1a0a" stroke-width="0.85"/>
<line x1="531.8" y1="482.4" x2="541.8" y2="482.4" stroke="#ff1a0a" stroke-width="0.85"/>
</g>
<g opacity="0.75">
<line x1="557.8" y1="450.4" x2="557.8" y2="456" stroke="#4cf035" stroke-width="0.85"/>
<line x1="553.2" y1="450.4" x2="562.4" y2="450.4" stroke="#4cf035" stroke-width="0.85"/>
<line x1="553.2" y1="456" x2="562.4" y2="456" stroke="#4cf035" stroke-width="0.85"/>
</g>
<line x1="494.6" y1="457.7" x2="579.2" y2="457.7" stroke="#111" stroke-width="1.3"/>
<line x1="494.6" y1="507.9" x2="579.2" y2="507.9" stroke="#111" stroke-width="1.3"/>
<line x1="518.2" y1="419.7" x2="535.9" y2="419.7" stroke="#111" stroke-width="1.6"/>
<text x="526.6" y="419" font-size="13" class="a" font-weight="bold" text-anchor="middle" fill="#111" stroke="#111" stroke-width="0.25">***</text>
<line x1="541" y1="419.7" x2="558.7" y2="419.7" stroke="#111" stroke-width="1.6"/>
<text x="549.4" y="419" font-size="13" class="a" font-weight="bold" text-anchor="middle" fill="#111" stroke="#111" stroke-width="0.25">***</text>
<text x="459.04" y="457.6" font-size="8.9" class="s" font-weight="bold" text-anchor="middle" fill="#111" stroke="#111" stroke-width="0.2" textLength="81.7" lengthAdjust="spacingAndGlyphs" transform="rotate(-90 459.04 457.6)">Discrimination index</text>
<text x="470.24" y="457.6" font-size="8.9" class="s" font-weight="bold" text-anchor="middle" fill="#111" stroke="#111" stroke-width="0.2" textLength="67.3" lengthAdjust="spacingAndGlyphs" transform="rotate(-90 470.24 457.6)">(D2-D1)/(D1+D2)</text>
<circle cx="589" cy="409.1" r="1.9" fill="#2305ff"/>
<text x="601.5" y="412.2" font-size="9.1" class="s" font-weight="bold" fill="#111" stroke="#111" stroke-width="0.2" textLength="14.9" lengthAdjust="spacingAndGlyphs">WT</text>
<circle cx="589" cy="424.2" r="1.9" fill="#ff1a0a"/>
<text x="601.5" y="427.3" font-size="9.1" class="s" font-weight="bold" fill="#111" stroke="#111" stroke-width="0.2" textLength="35.8" lengthAdjust="spacingAndGlyphs">3xTg-AD</text>
<circle cx="589" cy="438.8" r="1.9" fill="#4cf035"/>
<text x="601.5" y="441.9" font-size="9.1" class="s" font-weight="bold" fill="#111" stroke="#111" stroke-width="0.2" textLength="70.2" lengthAdjust="spacingAndGlyphs">3xTg-AD+β-OHB</text>
<text x="2.8" y="557.5" font-size="18" class="s" font-weight="bold" stroke="#000" stroke-width="0.2">k</text>
<path d="M5.1,602.7 L20.1,608.7 L20.1,651.8 L5.1,651.8 Z" fill="#4b4b4b"/>
<path d="M5.1,602.7 L89.1,602.7 L102.8,607.5 L20.1,608.7 Z" fill="#5a5a5a"/>
<rect x="20.1" y="608.7" width="68" height="34.5" fill="#f8fcfd"/>
<rect x="20.1" y="643.2" width="79" height="11.4" fill="#f3f6f6"/>
<clipPath id="fc5"><rect x="20.1" y="643.2" width="79" height="11.4"/></clipPath>
<path d="M18.1,643.4 L25.1,654.4 M24.7,643.4 L31.7,654.4 M31.3,643.4 L38.3,654.4 M37.9,643.4 L44.9,654.4 M44.5,643.4 L51.5,654.4 M51.1,643.4 L58.1,654.4 M57.7,643.4 L64.7,654.4 M64.3,643.4 L71.3,654.4 M70.9,643.4 L77.9,654.4 M77.5,643.4 L84.5,654.4 M84.1,643.4 L91.1,654.4 M90.7,643.4 L97.7,654.4 " fill="none" stroke="#74868a" stroke-width="1.0" clip-path="url(#fc5)"/>
<line x1="20.1" y1="643.5" x2="100.1" y2="643.5" stroke="#8a9a98" stroke-width="0.7"/>
<line x1="20.1" y1="654.5" x2="102.1" y2="654.5" stroke="#555" stroke-width="0.9"/>
<rect x="88" y="607.5" width="14.8" height="47.2" fill="#505050"/>
<path d="M88,607.5 L102.8,607.5" fill="none" stroke="#3c3c3c" stroke-width="0.6"/>
<path d="M1.3,650.4 L1.3,624.8 Q1.3,623.8 2.3,623.8 L10.9,623.8 Q11.9,623.8 11.9,624.8 L11.9,650.4 Z" fill="#4e4e4e"/>
<rect x="1.3" y="624.5" width="1.6" height="25.8" fill="#6a6a6a"/>
<rect x="4.6" y="650.2" width="5.6" height="4.4" fill="#333"/>
<path d="M85,648.2 Q93,646.8 99,648.6 Q104,650.2 105,652" fill="none" stroke="#d98f8f" stroke-width="0.6"/>
<path d="M60,647.6 C61.5,645.5 63.5,643.2 66,642.4 C69,639.6 76,639.2 80,640.4 C84,641.4 86.5,644.2 86.2,647.2 C85,649.4 78,649.4 72,649.2 C67,649.2 62.5,649 60,647.6 Z" fill="#3d3636"/>
<circle cx="67.4" cy="642.2" r="1.5" fill="#4a3c3c"/>
<circle cx="67.6" cy="642.4" r="0.9" fill="#d69a9a"/>
<line x1="64" y1="649.5" x2="82" y2="649.8" stroke="#d8a8a8" stroke-width="0.5"/>
<path d="M83.6,632 L88,632 L85.2,636.6 L88.2,636.6 L81.2,642.2 L83.4,638 L80.2,638 Z" fill="#f0d426"/>
<path d="M92.9,641.9 L97.3,641.9 L94.5,646.5 L97.5,646.5 L90.5,652.1 L92.7,647.9 L89.5,647.9 Z" fill="#f0d426"/>
<path d="M112,631.9 L136.1,631.9 L136.1,626 L148.6,635.9 L136.1,646.1 L136.1,640.2 L112,640.2 Z" fill="#1c1c1c"/>
<path d="M155.1,602.7 L170.1,608.7 L170.1,651.8 L155.1,651.8 Z" fill="#4b4b4b"/>
<path d="M155.1,602.7 L239.1,602.7 L252.8,607.5 L170.1,608.7 Z" fill="#5a5a5a"/>
<rect x="170.1" y="608.7" width="68" height="34.5" fill="#f8fcfd"/>
<rect x="170.1" y="643.2" width="79" height="11.4" fill="#f3f6f6"/>
<clipPath id="fc155"><rect x="170.1" y="643.2" width="79" height="11.4"/></clipPath>
<path d="M168.1,643.4 L175.1,654.4 M174.7,643.4 L181.7,654.4 M181.3,643.4 L188.3,654.4 M187.9,643.4 L194.9,654.4 M194.5,643.4 L201.5,654.4 M201.1,643.4 L208.1,654.4 M207.7,643.4 L214.7,654.4 M214.3,643.4 L221.3,654.4 M220.9,643.4 L227.9,654.4 M227.5,643.4 L234.5,654.4 M234.1,643.4 L241.1,654.4 M240.7,643.4 L247.7,654.4 " fill="none" stroke="#74868a" stroke-width="1.0" clip-path="url(#fc155)"/>
<line x1="170.1" y1="643.5" x2="250.1" y2="643.5" stroke="#8a9a98" stroke-width="0.7"/>
<line x1="170.1" y1="654.5" x2="252.1" y2="654.5" stroke="#555" stroke-width="0.9"/>
<rect x="238" y="607.5" width="14.8" height="47.2" fill="#505050"/>
<path d="M238,607.5 L252.8,607.5" fill="none" stroke="#3c3c3c" stroke-width="0.6"/>
<path d="M151.3,650.4 L151.3,624.8 Q151.3,623.8 152.3,623.8 L160.9,623.8 Q161.9,623.8 161.9,624.8 L161.9,650.4 Z" fill="#4e4e4e"/>
<rect x="151.3" y="624.5" width="1.6" height="25.8" fill="#6a6a6a"/>
<rect x="154.6" y="650.2" width="5.6" height="4.4" fill="#333"/>
<path d="M232.6,648.2 Q240.6,646.8 246.6,648.6 Q251.6,650.2 252.6,652" fill="none" stroke="#d98f8f" stroke-width="0.6"/>
<path d="M207.6,647.6 C209.1,645.5 211.1,643.2 213.6,642.4 C216.6,639.6 223.6,639.2 227.6,640.4 C231.6,641.4 234.1,644.2 233.8,647.2 C232.6,649.4 225.6,649.4 219.6,649.2 C214.6,649.2 210.1,649 207.6,647.6 Z" fill="#3d3636"/>
<circle cx="215" cy="642.2" r="1.5" fill="#4a3c3c"/>
<circle cx="215.2" cy="642.4" r="0.9" fill="#d69a9a"/>
<line x1="211.6" y1="649.5" x2="229.6" y2="649.8" stroke="#d8a8a8" stroke-width="0.5"/>
<text x="271" y="557.4" font-size="18" class="s" font-weight="bold" stroke="#000" stroke-width="0.2">l</text>
<line x1="312.4" y1="581.8" x2="312.4" y2="682.55" stroke="#444" stroke-width="1.3"/>
<line x1="308.6" y1="681.9" x2="312.4" y2="681.9" stroke="#111" stroke-width="1.3"/>
<text x="307.4" y="684.79" font-size="8.5" class="s" font-weight="bold" text-anchor="end" fill="#111" stroke="#111" stroke-width="0.2">0</text>
<line x1="308.6" y1="656.95" x2="312.4" y2="656.95" stroke="#111" stroke-width="1.3"/>
<text x="307.4" y="659.84" font-size="8.5" class="s" font-weight="bold" text-anchor="end" fill="#111" stroke="#111" stroke-width="0.2">50</text>
<line x1="308.6" y1="632" x2="312.4" y2="632" stroke="#111" stroke-width="1.3"/>
<text x="307.4" y="634.89" font-size="8.5" class="s" font-weight="bold" text-anchor="end" fill="#111" stroke="#111" stroke-width="0.2">100</text>
<line x1="308.6" y1="607.05" x2="312.4" y2="607.05" stroke="#111" stroke-width="1.3"/>
<text x="307.4" y="609.94" font-size="8.5" class="s" font-weight="bold" text-anchor="end" fill="#111" stroke="#111" stroke-width="0.2">150</text>
<line x1="308.6" y1="582.1" x2="312.4" y2="582.1" stroke="#111" stroke-width="1.3"/>
<text x="307.4" y="584.99" font-size="8.5" class="s" font-weight="bold" text-anchor="end" fill="#111" stroke="#111" stroke-width="0.2">200</text>
<line x1="312.4" y1="681.9" x2="404.4" y2="681.9" stroke="#111" stroke-width="1.3"/>
<text x="359" y="573" font-size="10.2" class="s" font-weight="bold" text-anchor="middle" fill="#111" stroke="#111" stroke-width="0.2" textLength="22.7" lengthAdjust="spacingAndGlyphs">Day1</text>
<text x="289.34" y="631.5" font-size="9.2" class="s" font-weight="bold" text-anchor="middle" fill="#111" stroke="#111" stroke-width="0.2" textLength="70.2" lengthAdjust="spacingAndGlyphs" transform="rotate(-90 289.34 631.5)">Freezing times (S)</text>
<rect x="325.6" y="620.8" width="21.8" height="61.1" fill="#fff"/>
<path d="M325.6,681.9 L325.6,620.8 L347.4,620.8 L347.4,681.9" fill="none" stroke="#2305ff" stroke-width="1.6" stroke-linejoin="miter"/>
<rect x="348.4" y="636.9" width="21.8" height="45" fill="#fff"/>
<path d="M348.4,681.9 L348.4,636.9 L370.2,636.9 L370.2,681.9" fill="none" stroke="#ff1a0a" stroke-width="1.6" stroke-linejoin="miter"/>
<rect x="371.4" y="620.8" width="21.7" height="61.1" fill="#fff"/>
<path d="M371.4,681.9 L371.4,620.8 L393.1,620.8 L393.1,681.9" fill="none" stroke="#4cf035" stroke-width="1.6" stroke-linejoin="miter"/>
<circle cx="325.9" cy="615" r="1.85" fill="#2305ff"/>
<circle cx="335.9" cy="612.8" r="1.85" fill="#2305ff"/>
<circle cx="330.9" cy="618.1" r="1.85" fill="#2305ff"/>
<circle cx="335.9" cy="618.1" r="1.85" fill="#2305ff"/>
<circle cx="340.9" cy="616.3" r="1.85" fill="#2305ff"/>
<circle cx="345.9" cy="616.3" r="1.85" fill="#2305ff"/>
<circle cx="330.9" cy="622.2" r="1.85" fill="#2305ff"/>
<circle cx="335.9" cy="624.7" r="1.85" fill="#2305ff"/>
<circle cx="340.9" cy="624.7" r="1.85" fill="#2305ff"/>
<circle cx="335.9" cy="630" r="1.85" fill="#2305ff"/>
<circle cx="355.8" cy="618.3" r="1.85" fill="#ff1a0a"/>
<circle cx="362.5" cy="615.5" r="1.85" fill="#ff1a0a"/>
<circle cx="349.2" cy="634.7" r="1.85" fill="#ff1a0a"/>
<circle cx="355.8" cy="634.7" r="1.85" fill="#ff1a0a"/>
<circle cx="362.5" cy="633.6" r="1.85" fill="#ff1a0a"/>
<circle cx="369.2" cy="633.6" r="1.85" fill="#ff1a0a"/>
<circle cx="355.8" cy="640.5" r="1.85" fill="#ff1a0a"/>
<circle cx="362.5" cy="638.1" r="1.85" fill="#ff1a0a"/>
<circle cx="362.5" cy="643.3" r="1.85" fill="#ff1a0a"/>
<circle cx="359.2" cy="662.9" r="1.85" fill="#ff1a0a"/>
<circle cx="382.5" cy="610.3" r="1.85" fill="#4cf035"/>
<circle cx="372.5" cy="616.1" r="1.85" fill="#4cf035"/>
<circle cx="375.8" cy="616.1" r="1.85" fill="#4cf035"/>
<circle cx="379.1" cy="616.1" r="1.85" fill="#4cf035"/>
<circle cx="382.5" cy="616.1" r="1.85" fill="#4cf035"/>
<circle cx="385.8" cy="616.1" r="1.85" fill="#4cf035"/>
<circle cx="389.1" cy="616.1" r="1.85" fill="#4cf035"/>
<circle cx="392.5" cy="616.1" r="1.85" fill="#4cf035"/>
<circle cx="382.5" cy="631.8" r="1.85" fill="#4cf035"/>
<circle cx="382.5" cy="637.4" r="1.85" fill="#4cf035"/>
<g opacity="0.75">
<line x1="335.9" y1="618" x2="335.9" y2="623" stroke="#2305ff" stroke-width="0.85"/>
<line x1="331.1" y1="618" x2="340.7" y2="618" stroke="#2305ff" stroke-width="0.85"/>
<line x1="331.1" y1="623" x2="340.7" y2="623" stroke="#2305ff" stroke-width="0.85"/>
</g>
<g opacity="0.75">
<line x1="359.2" y1="631.4" x2="359.2" y2="641" stroke="#ff1a0a" stroke-width="0.85"/>
<line x1="353.7" y1="631.4" x2="364.7" y2="631.4" stroke="#ff1a0a" stroke-width="0.85"/>
<line x1="353.7" y1="641" x2="364.7" y2="641" stroke="#ff1a0a" stroke-width="0.85"/>
</g>
<g opacity="0.75">
<line x1="382.5" y1="618.1" x2="382.5" y2="622.6" stroke="#4cf035" stroke-width="0.85"/>
<line x1="377.5" y1="618.1" x2="387.5" y2="618.1" stroke="#4cf035" stroke-width="0.85"/>
<line x1="377.5" y1="622.6" x2="387.5" y2="622.6" stroke="#4cf035" stroke-width="0.85"/>
</g>
<line x1="312.4" y1="681.9" x2="404.4" y2="681.9" stroke="#111" stroke-width="1.3"/>
<line x1="332" y1="596.8" x2="353.3" y2="596.8" stroke="#111" stroke-width="1.6"/>
<text x="342.95" y="596.2" font-size="13" class="a" font-weight="bold" text-anchor="middle" fill="#111" stroke="#111" stroke-width="0.25">*</text>
<line x1="361.8" y1="596.8" x2="383.5" y2="596.8" stroke="#111" stroke-width="1.6"/>
<text x="372.75" y="596.2" font-size="13" class="a" font-weight="bold" text-anchor="middle" fill="#111" stroke="#111" stroke-width="0.25">*</text>
<text x="439.6" y="558.1" font-size="18" class="s" font-weight="bold" stroke="#000" stroke-width="0.2">m</text>
<line x1="497.4" y1="584.4" x2="497.4" y2="681.05" stroke="#111" stroke-width="1.3"/>
<line x1="493.6" y1="680.4" x2="497.4" y2="680.4" stroke="#111" stroke-width="1.3"/>
<text x="492.4" y="683.29" font-size="8.5" class="s" font-weight="bold" text-anchor="end" fill="#111" stroke="#111" stroke-width="0.2">0</text>
<line x1="493.6" y1="656.48" x2="497.4" y2="656.48" stroke="#111" stroke-width="1.3"/>
<text x="492.4" y="659.37" font-size="8.5" class="s" font-weight="bold" text-anchor="end" fill="#111" stroke="#111" stroke-width="0.2">50</text>
<line x1="493.6" y1="632.55" x2="497.4" y2="632.55" stroke="#111" stroke-width="1.3"/>
<text x="492.4" y="635.44" font-size="8.5" class="s" font-weight="bold" text-anchor="end" fill="#111" stroke="#111" stroke-width="0.2">100</text>
<line x1="493.6" y1="608.62" x2="497.4" y2="608.62" stroke="#111" stroke-width="1.3"/>
<text x="492.4" y="611.51" font-size="8.5" class="s" font-weight="bold" text-anchor="end" fill="#111" stroke="#111" stroke-width="0.2">150</text>
<line x1="493.6" y1="584.7" x2="497.4" y2="584.7" stroke="#111" stroke-width="1.3"/>
<text x="492.4" y="587.59" font-size="8.5" class="s" font-weight="bold" text-anchor="end" fill="#111" stroke="#111" stroke-width="0.2">200</text>
<line x1="497.4" y1="680.4" x2="593" y2="680.4" stroke="#111" stroke-width="1.3"/>
<text x="545" y="571.1" font-size="10.2" class="s" font-weight="bold" text-anchor="middle" fill="#111" stroke="#111" stroke-width="0.2" textLength="23.4" lengthAdjust="spacingAndGlyphs">Day7</text>
<text x="469.87" y="632.9" font-size="9.0" class="s" font-weight="bold" text-anchor="middle" fill="#111" stroke="#111" stroke-width="0.2" textLength="68.7" lengthAdjust="spacingAndGlyphs" transform="rotate(-90 469.87 632.9)">Freezing times (S)</text>
<rect x="510.25" y="621.05" width="22.1" height="59.35" fill="#fff"/>
<path d="M510.25,680.4 L510.25,621.05 L532.35,621.05 L532.35,680.4" fill="none" stroke="#2305ff" stroke-width="1.7" stroke-linejoin="miter"/>
<rect x="533.45" y="649.15" width="22.3" height="31.25" fill="#fff"/>
<path d="M533.45,680.4 L533.45,649.15 L555.75,649.15 L555.75,680.4" fill="none" stroke="#ff1a0a" stroke-width="1.7" stroke-linejoin="miter"/>
<rect x="557.95" y="620.65" width="21.7" height="59.75" fill="#fff"/>
<path d="M557.95,680.4 L557.95,620.65 L579.65,620.65 L579.65,680.4" fill="none" stroke="#4cf035" stroke-width="1.7" stroke-linejoin="miter"/>
<circle cx="521.1" cy="604.1" r="1.85" fill="#2305ff"/>
<circle cx="510.8" cy="615.8" r="1.85" fill="#2305ff"/>
<circle cx="517.6" cy="616.9" r="1.85" fill="#2305ff"/>
<circle cx="524.6" cy="617.3" r="1.85" fill="#2305ff"/>
<circle cx="531.6" cy="615.3" r="1.85" fill="#2305ff"/>
<circle cx="514.1" cy="622.8" r="1.85" fill="#2305ff"/>
<circle cx="521.1" cy="622.8" r="1.85" fill="#2305ff"/>
<circle cx="528.1" cy="623.9" r="1.85" fill="#2305ff"/>
<circle cx="524.6" cy="630.7" r="1.85" fill="#2305ff"/>
<circle cx="517.6" cy="634" r="1.85" fill="#2305ff"/>
<circle cx="544.7" cy="616.7" r="1.85" fill="#ff1a0a"/>
<circle cx="551.5" cy="613.8" r="1.85" fill="#ff1a0a"/>
<circle cx="541.4" cy="647.1" r="1.85" fill="#ff1a0a"/>
<circle cx="548.4" cy="645.3" r="1.85" fill="#ff1a0a"/>
<circle cx="541.4" cy="652" r="1.85" fill="#ff1a0a"/>
<circle cx="548.4" cy="652" r="1.85" fill="#ff1a0a"/>
<circle cx="544.7" cy="657" r="1.85" fill="#ff1a0a"/>
<circle cx="538.3" cy="664.6" r="1.85" fill="#ff1a0a"/>
<circle cx="544.7" cy="664" r="1.85" fill="#ff1a0a"/>
<circle cx="551.5" cy="664.6" r="1.85" fill="#ff1a0a"/>
<circle cx="558.5" cy="609.4" r="1.85" fill="#4cf035"/>
<circle cx="565.1" cy="608.3" r="1.85" fill="#4cf035"/>
<circle cx="572.2" cy="608.7" r="1.85" fill="#4cf035"/>
<circle cx="565.1" cy="611.8" r="1.85" fill="#4cf035"/>
<circle cx="572.2" cy="613" r="1.85" fill="#4cf035"/>
<circle cx="565.1" cy="615.5" r="1.85" fill="#4cf035"/>
<circle cx="578.8" cy="614.4" r="1.85" fill="#4cf035"/>
<circle cx="568.6" cy="622.3" r="1.85" fill="#4cf035"/>
<circle cx="568.6" cy="633.3" r="1.85" fill="#4cf035"/>
<circle cx="568.6" cy="655.5" r="1.85" fill="#4cf035"/>
<g opacity="0.75">
<line x1="521.1" y1="617.6" x2="521.1" y2="622.8" stroke="#2305ff" stroke-width="0.85"/>
<line x1="516.6" y1="617.6" x2="525.6" y2="617.6" stroke="#2305ff" stroke-width="0.85"/>
<line x1="516.6" y1="622.8" x2="525.6" y2="622.8" stroke="#2305ff" stroke-width="0.85"/>
</g>
<g opacity="0.75">
<line x1="544.9" y1="641.8" x2="544.9" y2="652.9" stroke="#ff1a0a" stroke-width="0.85"/>
<line x1="539.5" y1="641.8" x2="550.3" y2="641.8" stroke="#ff1a0a" stroke-width="0.85"/>
<line x1="539.5" y1="652.9" x2="550.3" y2="652.9" stroke="#ff1a0a" stroke-width="0.85"/>
</g>
<g opacity="0.75">
<line x1="568.6" y1="614.4" x2="568.6" y2="623.9" stroke="#4cf035" stroke-width="0.85"/>
<line x1="563.6" y1="614.4" x2="573.6" y2="614.4" stroke="#4cf035" stroke-width="0.85"/>
<line x1="563.6" y1="623.9" x2="573.6" y2="623.9" stroke="#4cf035" stroke-width="0.85"/>
</g>
<line x1="497.4" y1="680.4" x2="593" y2="680.4" stroke="#111" stroke-width="1.3"/>
<line x1="519.9" y1="595.7" x2="545.8" y2="595.7" stroke="#111" stroke-width="1.6"/>
<text x="533.05" y="589.7" font-size="7.0" class="s" font-weight="bold" text-anchor="middle" fill="#111" stroke="#111" stroke-width="0.2" font-style="italic" textLength="24.3" lengthAdjust="spacingAndGlyphs">p=0.071</text>
<line x1="550.3" y1="595.7" x2="575.9" y2="595.7" stroke="#111" stroke-width="1.6"/>
<text x="563.15" y="595" font-size="13" class="a" font-weight="bold" text-anchor="middle" fill="#111" stroke="#111" stroke-width="0.25">**</text>
<circle cx="601.2" cy="580" r="1.9" fill="#2305ff"/>
<text x="614.1" y="583.2" font-size="9.2" class="s" font-weight="bold" fill="#111" stroke="#111" stroke-width="0.2" textLength="14.7" lengthAdjust="spacingAndGlyphs">WT</text>
<circle cx="601.2" cy="595.8" r="1.9" fill="#ff1a0a"/>
<text x="614.1" y="599" font-size="9.2" class="s" font-weight="bold" fill="#111" stroke="#111" stroke-width="0.2" textLength="36.2" lengthAdjust="spacingAndGlyphs">3xTg-AD</text>
<circle cx="601.2" cy="610.1" r="1.9" fill="#4cf035"/>
<text x="614.1" y="613.3" font-size="9.2" class="s" font-weight="bold" fill="#111" stroke="#111" stroke-width="0.2" textLength="71.4" lengthAdjust="spacingAndGlyphs">3xTg-AD+β-OHB</text>
</svg>
</body></html>
